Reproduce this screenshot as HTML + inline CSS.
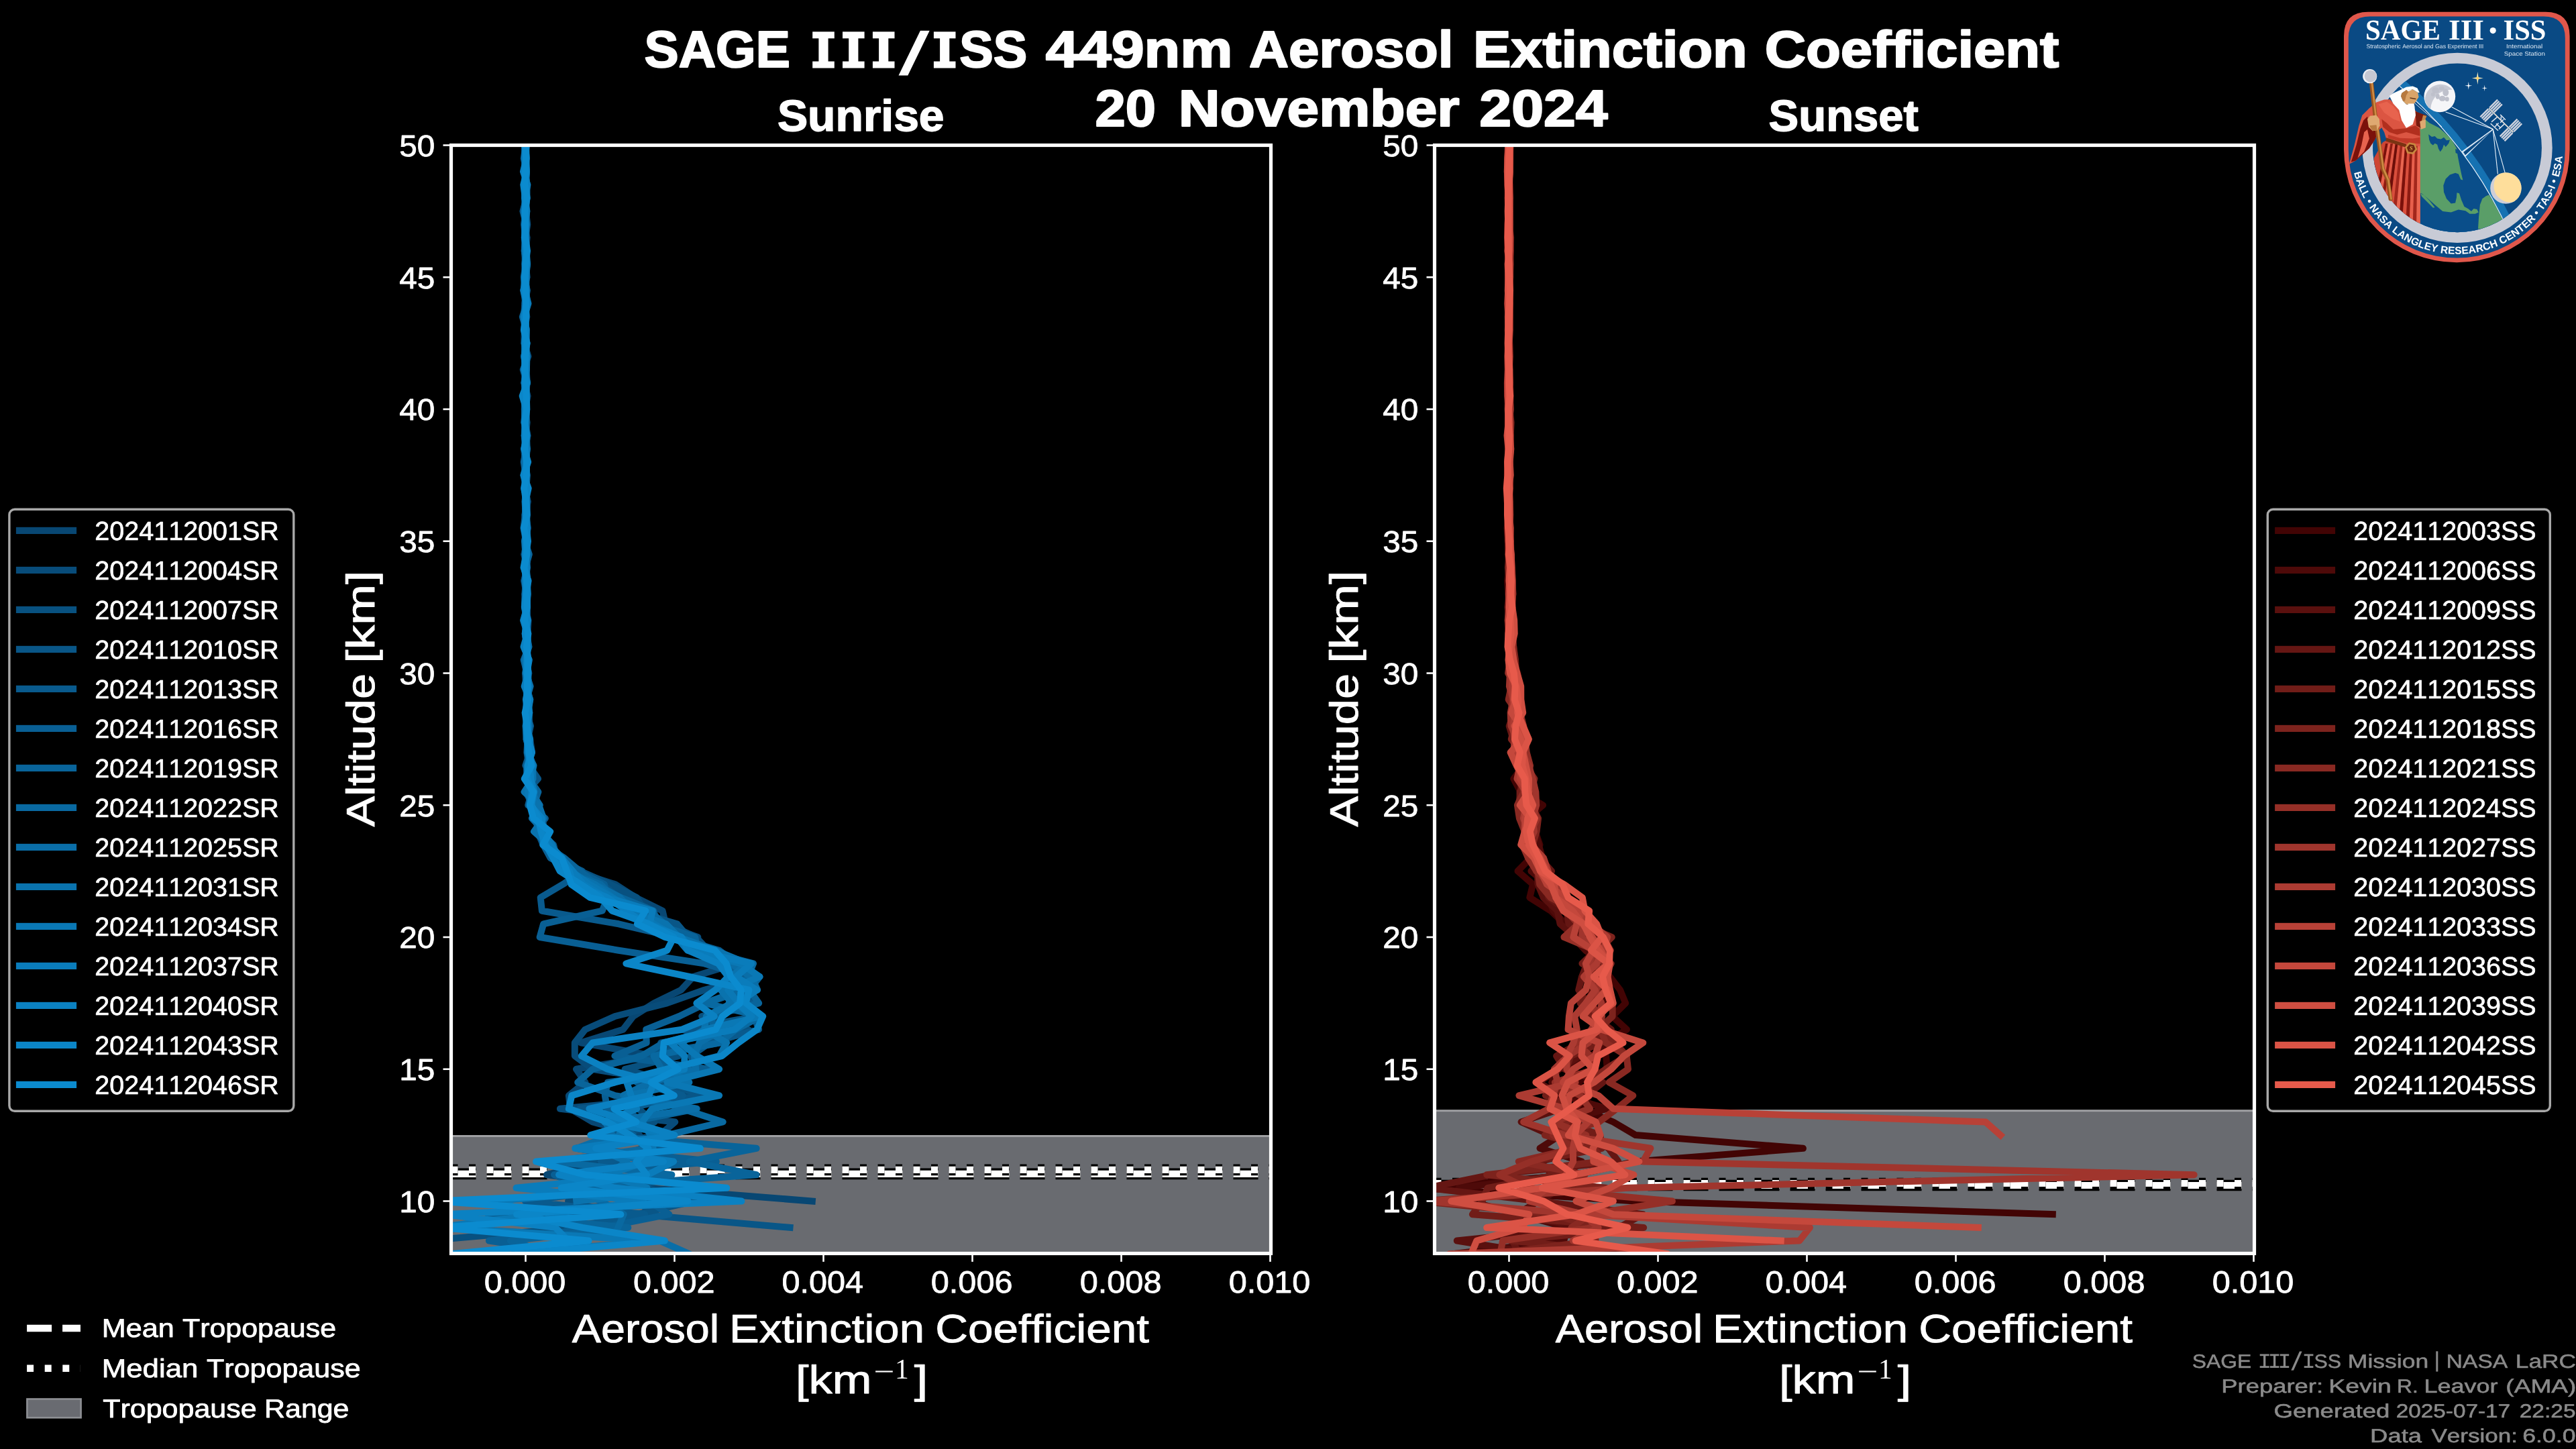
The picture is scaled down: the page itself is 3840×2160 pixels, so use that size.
<!DOCTYPE html>
<html><head><meta charset="utf-8"><title>SAGE III/ISS 449nm Aerosol Extinction Coefficient</title>
<style>html,body{margin:0;padding:0;background:#000;width:3840px;height:2160px;overflow:hidden}
svg{display:block}</style></head><body>
<svg width="3840" height="2160" viewBox="0 0 3840 2160" style="position:absolute;left:0;top:0;font-kerning:none" text-rendering="geometricPrecision">
<rect width="3840" height="2160" fill="#000"/>
<g opacity="0.999">
<defs>
<clipPath id="cp0"><rect x="672.50" y="216.50" width="1222.00" height="1652.00"/></clipPath>
<clipPath id="cp1"><rect x="2138.50" y="216.50" width="1222.00" height="1652.00"/></clipPath>
</defs>
<g clip-path="url(#cp0)">
<rect x="672.50" y="1693.50" width="1222.00" height="180.00" fill="#6a6c71"/>
<rect x="672.50" y="1692.00" width="1222.00" height="3" fill="#a0a1a4"/>
<path d="M672.50 1749.85H1894.50" stroke="#000" stroke-width="16.6" stroke-dasharray="37 16" fill="none"/>
<path d="M672.50 1749.85H1894.50" stroke="#fff" stroke-width="10.2" stroke-dasharray="37 16" fill="none"/>
<path d="M672.50 1743.85H1894.50" stroke="#000" stroke-width="16.6" stroke-dasharray="10 16.5" fill="none"/>
<path d="M672.50 1743.85H1894.50" stroke="#fff" stroke-width="10.2" stroke-dasharray="10 16.5" fill="none"/>
<g fill="none" stroke-width="10" stroke-linejoin="round" stroke-linecap="square">
<path d="M783.0 216.5 L783.8 236.2 L784.0 255.8 L782.3 275.5 L783.9 295.2 L783.5 314.9 L781.4 334.6 L785.7 354.2 L783.7 373.9 L782.4 393.6 L783.7 413.2 L784.2 432.9 L782.9 452.6 L783.3 472.3 L781.8 491.9 L785.1 511.6 L783.3 531.3 L783.8 551.0 L781.3 570.7 L786.6 590.3 L782.7 610.0 L783.0 629.7 L786.6 649.4 L782.4 669.0 L781.8 688.7 L784.2 708.4 L781.0 728.0 L786.9 747.7 L782.8 767.4 L783.4 787.1 L786.2 806.8 L781.2 826.4 L786.2 846.1 L781.1 865.8 L784.9 885.5 L783.2 905.1 L787.6 924.8 L786.5 944.5 L783.5 964.1 L786.9 983.8 L784.9 1003.5 L787.1 1023.2 L784.4 1042.8 L783.8 1062.5 L784.7 1082.2 L790.2 1101.9 L793.1 1121.6 L786.6 1141.2 L787.7 1160.9 L802.4 1180.6 L792.5 1200.2 L800.7 1219.9 L807.5 1239.6 L814.5 1259.3 L832.4 1279.0 L855.5 1298.6 L917.1 1318.3 L947.6 1338.0 L987.6 1357.7 L992.2 1377.3 L1005.0 1397.0 L1061.5 1416.7 L1096.6 1436.4 L1033.4 1456.0 L1015.4 1475.7 L974.9 1495.4 L943.9 1515.0 L928.8 1534.7 L865.5 1554.4 L974.7 1574.1 L859.0 1593.8 L872.3 1613.4 L847.9 1633.1 L850.1 1652.8 L883.4 1672.5 L953.2 1692.1 L958.4 1711.8 L893.9 1731.5 L815.0 1751.2 L961.1 1770.8 L1210.8 1790.5" stroke="#094874"/>
<path d="M784.1 216.5 L784.0 236.2 L783.1 255.8 L783.4 275.5 L782.7 295.2 L783.8 314.9 L786.3 334.6 L783.3 354.2 L782.6 373.9 L783.1 393.6 L782.7 413.2 L784.5 432.9 L783.8 452.6 L781.4 472.3 L785.0 491.9 L782.5 511.6 L785.7 531.3 L782.8 551.0 L785.7 570.7 L781.8 590.3 L783.4 610.0 L784.2 629.7 L784.9 649.4 L783.8 669.0 L781.7 688.7 L784.9 708.4 L783.8 728.0 L783.4 747.7 L783.4 767.4 L787.0 787.1 L782.5 806.8 L783.3 826.4 L785.8 846.1 L784.2 865.8 L784.3 885.5 L785.7 905.1 L784.8 924.8 L785.1 944.5 L786.3 964.1 L785.2 983.8 L784.6 1003.5 L785.9 1023.2 L785.6 1042.8 L787.5 1062.5 L784.3 1082.2 L784.3 1101.9 L790.3 1121.6 L784.7 1141.2 L785.2 1160.9 L798.6 1180.6 L791.3 1200.2 L805.6 1219.9 L801.0 1239.6 L809.6 1259.3 L827.8 1279.0 L864.1 1298.6 L903.2 1318.3 L939.2 1338.0 L973.1 1357.7 L984.1 1377.3 L1040.3 1397.0 L1030.7 1416.7 L1100.7 1436.4 L1119.0 1456.0 L1049.9 1475.7 L994.4 1495.4 L916.7 1515.0 L872.3 1534.7 L856.8 1554.4 L856.8 1574.1 L883.4 1593.8 L1004.4 1613.4 L1037.8 1633.1 L834.9 1652.8 L1006.3 1672.5 L983.3 1692.1 L859.5 1711.8 L984.0 1731.5 L838.4 1751.2 L883.9 1770.8 L847.1 1790.5 L924.1 1810.2" stroke="#094d7b"/>
<path d="M784.3 216.5 L782.6 236.2 L784.2 255.8 L783.6 275.5 L784.8 295.2 L783.0 314.9 L781.2 334.6 L782.9 354.2 L785.2 373.9 L782.8 393.6 L785.1 413.2 L783.2 432.9 L782.4 452.6 L785.3 472.3 L781.8 491.9 L781.3 511.6 L787.4 531.3 L779.7 551.0 L785.5 570.7 L784.3 590.3 L783.1 610.0 L781.2 629.7 L786.1 649.4 L781.1 669.0 L782.9 688.7 L784.2 708.4 L785.2 728.0 L783.9 747.7 L785.0 767.4 L783.0 787.1 L784.2 806.8 L782.8 826.4 L784.6 846.1 L785.5 865.8 L783.6 885.5 L785.4 905.1 L783.4 924.8 L784.4 944.5 L785.6 964.1 L785.1 983.8 L786.7 1003.5 L785.8 1023.2 L789.3 1042.8 L784.5 1062.5 L786.6 1082.2 L785.2 1101.9 L789.2 1121.6 L791.1 1141.2 L786.2 1160.9 L794.2 1180.6 L799.4 1200.2 L798.1 1219.9 L803.0 1239.6 L825.1 1259.3 L830.1 1279.0 L865.2 1298.6 L909.8 1318.3 L949.1 1338.0 L961.1 1357.7 L995.0 1377.3 L1037.3 1397.0 L1056.2 1416.7 L1059.2 1436.4 L1130.6 1456.0 L1099.8 1475.7 L1124.5 1495.4 L1046.2 1515.0 L1115.6 1534.7 L985.2 1554.4 L1011.7 1574.1 L931.6 1593.8 L997.4 1613.4 L956.1 1633.1 L951.7 1652.8 L975.6 1672.5 L930.9 1692.1 L982.4 1711.8 L871.3 1731.5 L876.2 1751.2 L950.2 1770.8 L963.5 1790.5 L961.8 1810.2 L860.3 1829.9 L635.9 1849.5" stroke="#095281"/>
<path d="M782.9 216.5 L784.5 236.2 L783.1 255.8 L785.2 275.5 L783.3 295.2 L782.3 314.9 L784.6 334.6 L784.3 354.2 L782.3 373.9 L783.3 393.6 L780.9 413.2 L786.0 432.9 L782.2 452.6 L781.1 472.3 L782.5 491.9 L784.3 511.6 L784.6 531.3 L782.9 551.0 L784.2 570.7 L781.8 590.3 L782.4 610.0 L785.6 629.7 L783.7 649.4 L783.4 669.0 L785.5 688.7 L781.7 708.4 L783.9 728.0 L785.7 747.7 L786.0 767.4 L782.9 787.1 L786.6 806.8 L782.3 826.4 L785.2 846.1 L783.9 865.8 L782.3 885.5 L786.0 905.1 L785.8 924.8 L784.0 944.5 L785.2 964.1 L787.6 983.8 L782.9 1003.5 L784.5 1023.2 L786.4 1042.8 L784.8 1062.5 L791.0 1082.2 L786.6 1101.9 L785.4 1121.6 L788.4 1141.2 L802.0 1160.9 L784.4 1180.6 L793.3 1200.2 L804.6 1219.9 L809.1 1239.6 L814.5 1259.3 L821.8 1279.0 L848.5 1298.6 L897.9 1318.3 L923.0 1338.0 L943.6 1357.7 L1009.3 1377.3 L1025.9 1397.0 L1047.7 1416.7 L1091.8 1436.4 L1121.6 1456.0 L1101.5 1475.7 L1087.8 1495.4 L1128.2 1515.0 L1018.3 1534.7 L1074.2 1554.4 L952.1 1574.1 L1018.9 1593.8 L976.9 1613.4 L1056.2 1633.1 L864.1 1652.8 L904.0 1672.5 L939.7 1692.1 L882.5 1711.8 L924.3 1731.5 L974.3 1751.2 L961.5 1770.8 L1035.1 1790.5 L950.0 1810.2 L1177.5 1829.9" stroke="#0a5788"/>
<path d="M783.6 216.5 L780.8 236.2 L784.9 255.8 L783.2 275.5 L782.7 295.2 L784.7 314.9 L784.4 334.6 L782.3 354.2 L784.1 373.9 L782.6 393.6 L782.9 413.2 L784.1 432.9 L784.1 452.6 L782.5 472.3 L781.0 491.9 L785.6 511.6 L781.1 531.3 L784.6 551.0 L785.8 570.7 L782.4 590.3 L781.9 610.0 L782.4 629.7 L786.1 649.4 L782.9 669.0 L784.5 688.7 L784.8 708.4 L783.3 728.0 L783.6 747.7 L782.9 767.4 L780.4 787.1 L784.1 806.8 L785.2 826.4 L784.1 846.1 L785.1 865.8 L784.0 885.5 L784.9 905.1 L785.7 924.8 L783.0 944.5 L785.4 964.1 L783.2 983.8 L788.3 1003.5 L785.3 1023.2 L787.1 1042.8 L789.2 1062.5 L787.6 1082.2 L786.1 1101.9 L790.0 1121.6 L783.4 1141.2 L794.3 1160.9 L792.7 1180.6 L787.3 1200.2 L812.9 1219.9 L797.1 1239.6 L823.1 1259.3 L825.5 1279.0 L867.9 1298.6 L839.0 1318.3 L805.7 1338.0 L807.9 1357.7 L922.2 1377.3 L1005.5 1397.0 L1072.1 1416.7 L1098.5 1436.4 L1132.2 1456.0 L1083.8 1475.7 L1119.9 1495.4 L1124.1 1515.0 L1131.1 1534.7 L1058.0 1554.4 L1029.7 1574.1 L1038.2 1593.8 L949.4 1613.4 L1017.8 1633.1 L935.7 1652.8 L953.6 1672.5 L914.1 1692.1 L1001.0 1711.8 L895.9 1731.5 L966.5 1751.2 L931.8 1770.8 L783.1 1790.5 L961.3 1810.2 L846.6 1829.9 L841.4 1849.5 L769.2 1869.2 L790.7 1888.9" stroke="#0a5b8e"/>
<path d="M784.1 216.5 L782.8 236.2 L784.6 255.8 L783.6 275.5 L784.5 295.2 L779.5 314.9 L784.4 334.6 L782.6 354.2 L783.9 373.9 L782.7 393.6 L783.1 413.2 L784.7 432.9 L785.5 452.6 L778.8 472.3 L784.8 491.9 L784.1 511.6 L783.3 531.3 L783.0 551.0 L781.9 570.7 L783.1 590.3 L785.1 610.0 L784.6 629.7 L783.1 649.4 L782.5 669.0 L784.4 688.7 L783.5 708.4 L784.8 728.0 L783.8 747.7 L783.1 767.4 L784.8 787.1 L782.4 806.8 L786.2 826.4 L785.5 846.1 L781.9 865.8 L785.9 885.5 L782.8 905.1 L786.9 924.8 L785.5 944.5 L784.2 964.1 L787.1 983.8 L784.4 1003.5 L785.3 1023.2 L785.8 1042.8 L786.8 1062.5 L786.3 1082.2 L788.1 1101.9 L786.2 1121.6 L792.3 1141.2 L792.6 1160.9 L788.7 1180.6 L789.7 1200.2 L808.8 1219.9 L811.2 1239.6 L809.9 1259.3 L820.5 1279.0 L861.9 1298.6 L900.9 1318.3 L905.6 1338.0 L897.8 1357.7 L810.1 1377.3 L804.6 1397.0 L922.2 1416.7 L1049.9 1436.4 L1116.5 1456.0 L1110.0 1475.7 L1052.4 1495.4 L1012.4 1515.0 L963.2 1534.7 L963.7 1554.4 L916.4 1574.1 L1056.9 1593.8 L905.9 1613.4 L901.8 1633.1 L905.1 1652.8 L920.0 1672.5 L943.9 1692.1 L863.8 1711.8 L1067.8 1731.5 L825.9 1751.2 L873.2 1770.8 L967.3 1790.5 L997.3 1810.2 L898.3 1829.9 L728.9 1849.5 L859.0 1869.2 L813.8 1888.9" stroke="#0a6095"/>
<path d="M782.0 216.5 L784.4 236.2 L782.0 255.8 L785.8 275.5 L782.8 295.2 L782.2 314.9 L783.7 334.6 L783.1 354.2 L783.6 373.9 L784.7 393.6 L781.1 413.2 L782.0 432.9 L785.0 452.6 L783.1 472.3 L783.8 491.9 L784.0 511.6 L783.0 531.3 L784.7 551.0 L781.8 570.7 L784.1 590.3 L782.4 610.0 L782.6 629.7 L785.2 649.4 L784.1 669.0 L780.8 688.7 L783.6 708.4 L785.0 728.0 L785.3 747.7 L782.4 767.4 L784.3 787.1 L782.3 806.8 L788.8 826.4 L783.3 846.1 L785.4 865.8 L784.8 885.5 L785.5 905.1 L784.9 924.8 L784.0 944.5 L786.5 964.1 L785.0 983.8 L787.6 1003.5 L783.8 1023.2 L785.9 1042.8 L788.4 1062.5 L788.9 1082.2 L786.3 1101.9 L786.0 1121.6 L789.7 1141.2 L788.5 1160.9 L802.2 1180.6 L795.8 1200.2 L805.7 1219.9 L803.9 1239.6 L810.0 1259.3 L841.2 1279.0 L864.4 1298.6 L888.6 1318.3 L925.7 1338.0 L974.2 1357.7 L977.1 1377.3 L1036.1 1397.0 L1040.2 1416.7 L1081.3 1436.4 L1132.5 1456.0 L1117.0 1475.7 L1131.2 1495.4 L1059.3 1515.0 L1065.6 1534.7 L989.5 1554.4 L956.7 1574.1 L883.4 1593.8 L861.2 1613.4 L916.7 1633.1 L1038.8 1652.8 L938.9 1672.5 L889.6 1692.1 L1127.6 1711.8 L1027.7 1731.5 L1127.6 1751.2 L845.6 1770.8 L1009.7 1790.5 L727.8 1810.2 L936.3 1829.9 L760.8 1849.5 L824.1 1869.2 L870.4 1888.9" stroke="#0a659b"/>
<path d="M783.4 216.5 L784.4 236.2 L784.0 255.8 L781.4 275.5 L784.9 295.2 L784.0 314.9 L782.2 334.6 L784.4 354.2 L781.6 373.9 L786.1 393.6 L782.4 413.2 L783.5 432.9 L785.1 452.6 L782.6 472.3 L784.4 491.9 L781.8 511.6 L783.4 531.3 L782.0 551.0 L784.1 570.7 L785.0 590.3 L783.2 610.0 L784.6 629.7 L781.7 649.4 L783.2 669.0 L783.7 688.7 L784.9 708.4 L784.0 728.0 L783.7 747.7 L784.9 767.4 L783.5 787.1 L784.3 806.8 L786.1 826.4 L782.6 846.1 L785.1 865.8 L786.7 885.5 L783.6 905.1 L785.6 924.8 L783.5 944.5 L788.5 964.1 L780.7 983.8 L785.6 1003.5 L785.1 1023.2 L790.1 1042.8 L785.7 1062.5 L785.9 1082.2 L784.7 1101.9 L790.3 1121.6 L788.9 1141.2 L787.4 1160.9 L787.8 1180.6 L793.7 1200.2 L805.0 1219.9 L807.2 1239.6 L814.5 1259.3 L828.1 1279.0 L840.6 1298.6 L895.3 1318.3 L915.6 1338.0 L966.5 1357.7 L991.0 1377.3 L1011.1 1397.0 L1046.7 1416.7 L1123.0 1436.4 L1114.9 1456.0 L1106.0 1475.7 L1050.3 1495.4 L1134.5 1515.0 L1096.8 1534.7 L1073.0 1554.4 L974.4 1574.1 L986.4 1593.8 L978.2 1613.4 L961.1 1633.1 L1016.6 1652.8 L1077.7 1672.5 L994.4 1692.1 L968.9 1711.8 L824.9 1731.5 L1001.4 1751.2 L852.5 1770.8 L895.4 1790.5 L929.7 1810.2 L921.3 1829.9" stroke="#0a6aa2"/>
<path d="M785.0 216.5 L782.1 236.2 L782.8 255.8 L785.4 275.5 L785.4 295.2 L783.0 314.9 L784.2 334.6 L782.4 354.2 L782.1 373.9 L784.0 393.6 L785.5 413.2 L780.3 432.9 L784.0 452.6 L781.4 472.3 L784.8 491.9 L784.6 511.6 L781.4 531.3 L783.7 551.0 L785.5 570.7 L782.6 590.3 L781.9 610.0 L782.6 629.7 L781.8 649.4 L786.0 669.0 L782.3 688.7 L785.8 708.4 L784.4 728.0 L782.5 747.7 L783.7 767.4 L785.6 787.1 L783.9 806.8 L784.5 826.4 L781.8 846.1 L786.8 865.8 L782.6 885.5 L781.8 905.1 L785.3 924.8 L785.9 944.5 L788.0 964.1 L783.4 983.8 L784.0 1003.5 L790.6 1023.2 L784.8 1042.8 L785.9 1062.5 L784.8 1082.2 L786.2 1101.9 L792.8 1121.6 L786.1 1141.2 L788.6 1160.9 L791.8 1180.6 L804.7 1200.2 L793.0 1219.9 L811.7 1239.6 L814.2 1259.3 L828.2 1279.0 L840.4 1298.6 L886.5 1318.3 L924.4 1338.0 L942.0 1357.7 L965.4 1377.3 L1004.8 1397.0 L1067.3 1416.7 L1089.6 1436.4 L1119.7 1456.0 L1129.2 1475.7 L1086.5 1495.4 L1130.2 1515.0 L1077.2 1534.7 L1042.5 1554.4 L1034.8 1574.1 L1037.4 1593.8 L970.1 1613.4 L929.1 1633.1 L1037.6 1652.8 L902.4 1672.5 L912.7 1692.1 L860.1 1711.8 L973.8 1731.5 L858.0 1751.2 L908.6 1770.8 L969.4 1790.5 L849.1 1810.2 L661.4 1829.9 L983.3 1849.5 L1027.7 1869.2 L799.2 1888.9" stroke="#0b6fa9"/>
<path d="M783.0 216.5 L784.7 236.2 L783.1 255.8 L782.9 275.5 L781.9 295.2 L784.9 314.9 L783.5 334.6 L783.4 354.2 L782.9 373.9 L782.7 393.6 L783.7 413.2 L783.9 432.9 L783.2 452.6 L783.4 472.3 L783.0 491.9 L784.2 511.6 L783.6 531.3 L782.4 551.0 L785.0 570.7 L784.1 590.3 L784.1 610.0 L782.9 629.7 L783.5 649.4 L782.3 669.0 L785.5 688.7 L780.4 708.4 L784.8 728.0 L783.8 747.7 L785.5 767.4 L783.6 787.1 L782.8 806.8 L782.9 826.4 L784.2 846.1 L785.0 865.8 L784.5 885.5 L784.2 905.1 L783.7 924.8 L785.0 944.5 L786.8 964.1 L783.1 983.8 L786.5 1003.5 L788.7 1023.2 L785.9 1042.8 L785.1 1062.5 L788.7 1082.2 L784.9 1101.9 L788.8 1121.6 L793.9 1141.2 L794.5 1160.9 L781.6 1180.6 L803.2 1200.2 L810.2 1219.9 L796.0 1239.6 L818.4 1259.3 L838.7 1279.0 L840.5 1298.6 L886.8 1318.3 L914.1 1338.0 L935.0 1357.7 L992.8 1377.3 L1012.1 1397.0 L1066.2 1416.7 L1114.3 1436.4 L1089.5 1456.0 L1074.7 1475.7 L1091.0 1495.4 L1052.9 1515.0 L1049.9 1534.7 L1083.2 1554.4 L1072.1 1574.1 L994.4 1593.8 L1027.4 1613.4 L936.5 1633.1 L916.7 1652.8 L923.3 1672.5 L924.2 1692.1 L890.5 1711.8 L934.7 1731.5 L904.9 1751.2 L1052.8 1770.8 L859.3 1790.5" stroke="#0b74af"/>
<path d="M782.6 216.5 L781.9 236.2 L785.0 255.8 L782.8 275.5 L782.9 295.2 L783.0 314.9 L784.8 334.6 L782.9 354.2 L782.9 373.9 L785.4 393.6 L781.5 413.2 L782.5 432.9 L787.5 452.6 L781.5 472.3 L783.0 491.9 L782.9 511.6 L783.8 531.3 L784.6 551.0 L784.0 570.7 L783.8 590.3 L782.8 610.0 L781.7 629.7 L785.0 649.4 L785.6 669.0 L784.3 688.7 L782.9 708.4 L785.1 728.0 L782.9 747.7 L784.2 767.4 L782.4 787.1 L784.6 806.8 L784.7 826.4 L784.0 846.1 L785.6 865.8 L786.7 885.5 L785.2 905.1 L783.3 924.8 L784.0 944.5 L784.7 964.1 L784.4 983.8 L786.5 1003.5 L786.7 1023.2 L786.3 1042.8 L786.8 1062.5 L787.0 1082.2 L786.9 1101.9 L786.2 1121.6 L795.5 1141.2 L791.1 1160.9 L786.8 1180.6 L793.3 1200.2 L799.7 1219.9 L807.7 1239.6 L823.5 1259.3 L830.0 1279.0 L851.4 1298.6 L878.9 1318.3 L912.7 1338.0 L947.7 1357.7 L974.9 1377.3 L1008.4 1397.0 L1025.0 1416.7 L1104.5 1436.4 L1132.5 1456.0 L1085.1 1475.7 L1101.0 1495.4 L1133.9 1515.0 L1051.3 1534.7 L1014.5 1554.4 L1038.8 1574.1 L1072.1 1593.8 L994.4 1613.4 L1072.1 1633.1 L972.2 1652.8 L957.1 1672.5 L969.8 1692.1 L973.5 1711.8 L964.6 1731.5 L904.3 1751.2 L964.5 1770.8 L735.8 1790.5 L805.7 1810.2 L650.3 1829.9 L972.2 1849.5 L765.0 1869.2 L837.0 1888.9" stroke="#0b79b6"/>
<path d="M782.4 216.5 L784.1 236.2 L784.7 255.8 L784.2 275.5 L784.1 295.2 L782.7 314.9 L783.2 334.6 L783.2 354.2 L784.5 373.9 L786.1 393.6 L783.9 413.2 L784.7 432.9 L784.3 452.6 L780.6 472.3 L784.2 491.9 L783.1 511.6 L785.4 531.3 L784.9 551.0 L781.6 570.7 L784.0 590.3 L784.2 610.0 L782.6 629.7 L783.1 649.4 L783.2 669.0 L785.4 688.7 L782.0 708.4 L786.1 728.0 L783.4 747.7 L785.0 767.4 L785.8 787.1 L782.2 806.8 L783.5 826.4 L785.5 846.1 L782.6 865.8 L784.1 885.5 L784.9 905.1 L784.9 924.8 L782.9 944.5 L785.5 964.1 L786.6 983.8 L787.3 1003.5 L781.7 1023.2 L790.3 1042.8 L787.1 1062.5 L783.6 1082.2 L785.1 1101.9 L790.7 1121.6 L787.1 1141.2 L791.4 1160.9 L796.4 1180.6 L791.9 1200.2 L802.6 1219.9 L808.3 1239.6 L819.2 1259.3 L837.2 1279.0 L853.8 1298.6 L869.9 1318.3 L904.3 1338.0 L972.8 1357.7 L968.5 1377.3 L1015.6 1397.0 L1033.5 1416.7 L1120.1 1436.4 L1097.1 1456.0 L1128.1 1475.7 L1099.4 1495.4 L1120.3 1515.0 L1095.0 1534.7 L999.5 1554.4 L1020.5 1574.1 L1020.1 1593.8 L934.3 1613.4 L940.8 1633.1 L949.1 1652.8 L901.0 1672.5 L1005.2 1692.1 L857.3 1711.8 L1004.1 1731.5 L965.6 1751.2 L769.5 1770.8 L959.1 1790.5 L817.3 1810.2" stroke="#0b7dbc"/>
<path d="M784.1 216.5 L784.6 236.2 L780.0 255.8 L786.4 275.5 L782.6 295.2 L785.4 314.9 L782.1 334.6 L782.7 354.2 L784.0 373.9 L784.9 393.6 L782.9 413.2 L780.5 432.9 L785.8 452.6 L781.0 472.3 L783.2 491.9 L782.6 511.6 L781.8 531.3 L783.0 551.0 L783.0 570.7 L783.3 590.3 L783.8 610.0 L783.2 629.7 L781.9 649.4 L784.4 669.0 L785.2 688.7 L784.5 708.4 L783.5 728.0 L784.8 747.7 L784.9 767.4 L785.5 787.1 L785.7 806.8 L782.7 826.4 L784.2 846.1 L786.7 865.8 L785.7 885.5 L785.7 905.1 L780.1 924.8 L786.2 944.5 L780.5 964.1 L788.8 983.8 L785.3 1003.5 L786.0 1023.2 L786.0 1042.8 L789.3 1062.5 L784.9 1082.2 L790.1 1101.9 L788.1 1121.6 L789.4 1141.2 L791.3 1160.9 L792.5 1180.6 L790.0 1200.2 L807.8 1219.9 L808.1 1239.6 L810.4 1259.3 L832.2 1279.0 L848.9 1298.6 L855.5 1318.3 L905.3 1338.0 L934.4 1357.7 L961.0 1377.3 L1015.8 1397.0 L1025.6 1416.7 L1070.9 1436.4 L1085.6 1456.0 L1066.4 1475.7 L1038.4 1495.4 L1064.8 1515.0 L1016.6 1534.7 L883.4 1554.4 L866.8 1574.1 L905.6 1593.8 L974.8 1613.4 L967.4 1633.1 L878.4 1652.8 L940.1 1672.5 L1005.5 1692.1 L888.1 1711.8 L989.1 1731.5 L833.1 1751.2 L916.7 1770.8 L1105.4 1790.5 L661.4 1810.2 L827.9 1829.9 L847.0 1849.5 L836.5 1869.2 L827.7 1888.9" stroke="#0c82c3"/>
<path d="M783.2 216.5 L783.8 236.2 L785.0 255.8 L780.3 275.5 L783.0 295.2 L782.4 314.9 L783.5 334.6 L781.8 354.2 L785.2 373.9 L783.3 393.6 L783.1 413.2 L782.8 432.9 L784.1 452.6 L783.6 472.3 L783.8 491.9 L782.4 511.6 L784.8 531.3 L781.2 551.0 L786.0 570.7 L778.7 590.3 L784.6 610.0 L782.3 629.7 L785.5 649.4 L781.2 669.0 L787.2 688.7 L780.6 708.4 L787.7 728.0 L783.3 747.7 L783.8 767.4 L784.7 787.1 L787.0 806.8 L784.1 826.4 L780.5 846.1 L787.6 865.8 L784.0 885.5 L782.0 905.1 L786.8 924.8 L782.6 944.5 L786.3 964.1 L785.7 983.8 L784.6 1003.5 L787.6 1023.2 L783.9 1042.8 L787.9 1062.5 L785.5 1082.2 L787.6 1101.9 L793.0 1121.6 L786.6 1141.2 L785.9 1160.9 L794.6 1180.6 L792.1 1200.2 L802.9 1219.9 L806.5 1239.6 L813.5 1259.3 L824.6 1279.0 L834.8 1298.6 L865.6 1318.3 L895.7 1338.0 L912.5 1357.7 L967.3 1377.3 L1004.5 1397.0 L994.4 1416.7 L933.4 1436.4 L1027.7 1456.0 L1116.5 1475.7 L1111.8 1495.4 L1137.2 1515.0 L1128.4 1534.7 L1100.7 1554.4 L1076.1 1574.1 L993.0 1593.8 L916.7 1613.4 L852.3 1633.1 L847.9 1652.8 L905.6 1672.5 L939.5 1692.1 L966.4 1711.8 L948.5 1731.5 L964.0 1751.2 L836.7 1770.8 L1025.5 1790.5 L770.1 1810.2 L868.3 1829.9 L990.9 1849.5 L772.1 1869.2 L697.5 1888.9" stroke="#0c87c9"/>
<path d="M783.7 216.5 L783.8 236.2 L783.0 255.8 L782.8 275.5 L785.7 295.2 L782.2 314.9 L783.1 334.6 L783.2 354.2 L786.0 373.9 L783.5 393.6 L782.5 413.2 L783.7 432.9 L784.2 452.6 L784.3 472.3 L780.9 491.9 L785.6 511.6 L782.7 531.3 L782.7 551.0 L783.4 570.7 L784.8 590.3 L785.3 610.0 L782.7 629.7 L784.3 649.4 L782.3 669.0 L785.0 688.7 L784.7 708.4 L781.3 728.0 L784.2 747.7 L785.5 767.4 L781.1 787.1 L784.8 806.8 L785.4 826.4 L781.5 846.1 L785.0 865.8 L784.8 885.5 L785.8 905.1 L782.1 924.8 L787.4 944.5 L784.9 964.1 L787.0 983.8 L786.6 1003.5 L785.7 1023.2 L786.9 1042.8 L782.6 1062.5 L785.7 1082.2 L786.5 1101.9 L788.2 1121.6 L792.5 1141.2 L781.8 1160.9 L795.2 1180.6 L789.8 1200.2 L795.2 1219.9 L820.2 1239.6 L809.3 1259.3 L837.4 1279.0 L845.0 1298.6 L851.7 1318.3 L879.6 1338.0 L962.3 1357.7 L949.9 1377.3 L991.4 1397.0 L1065.6 1416.7 L1082.7 1436.4 L1089.3 1456.0 L1104.7 1475.7 L1103.1 1495.4 L1076.9 1515.0 L1067.0 1534.7 L989.7 1554.4 L987.7 1574.1 L1010.8 1593.8 L970.5 1613.4 L1004.9 1633.1 L915.3 1652.8 L948.5 1672.5 L880.3 1692.1 L1043.9 1711.8 L799.1 1731.5 L872.3 1751.2 L1083.2 1770.8 L650.3 1790.5 L925.4 1810.2 L657.1 1829.9 L877.5 1849.5 L671.8 1869.2 L1001.0 1888.9" stroke="#0c8cd0"/>
</g>
</g>
<rect x="672.50" y="216.50" width="1222.00" height="1652.00" fill="none" stroke="#fff" stroke-width="5.2"/>
<rect x="660.50" y="1789.20" width="10" height="2.6" fill="#fff"/>
<rect x="660.50" y="1592.45" width="10" height="2.6" fill="#fff"/>
<rect x="660.50" y="1395.70" width="10" height="2.6" fill="#fff"/>
<rect x="660.50" y="1198.95" width="10" height="2.6" fill="#fff"/>
<rect x="660.50" y="1002.20" width="10" height="2.6" fill="#fff"/>
<rect x="660.50" y="805.45" width="10" height="2.6" fill="#fff"/>
<rect x="660.50" y="608.70" width="10" height="2.6" fill="#fff"/>
<rect x="660.50" y="411.95" width="10" height="2.6" fill="#fff"/>
<rect x="660.50" y="215.20" width="10" height="2.6" fill="#fff"/>
<rect x="782.20" y="1870.90" width="2.6" height="10" fill="#fff"/>
<rect x="1004.20" y="1870.90" width="2.6" height="10" fill="#fff"/>
<rect x="1226.20" y="1870.90" width="2.6" height="10" fill="#fff"/>
<rect x="1448.20" y="1870.90" width="2.6" height="10" fill="#fff"/>
<rect x="1670.20" y="1870.90" width="2.6" height="10" fill="#fff"/>
<rect x="1892.20" y="1870.90" width="2.6" height="10" fill="#fff"/>
<g clip-path="url(#cp1)">
<rect x="2138.50" y="1655.70" width="1222.00" height="217.80" fill="#6a6c71"/>
<rect x="2138.50" y="1654.20" width="1222.00" height="3" fill="#a0a1a4"/>
<path d="M2138.50 1767.00H3360.50" stroke="#000" stroke-width="16.6" stroke-dasharray="37 16" fill="none"/>
<path d="M2138.50 1767.00H3360.50" stroke="#fff" stroke-width="10.2" stroke-dasharray="37 16" fill="none"/>
<path d="M2138.50 1764.00H3360.50" stroke="#000" stroke-width="16.6" stroke-dasharray="10 16.5" fill="none"/>
<path d="M2138.50 1764.00H3360.50" stroke="#fff" stroke-width="10.2" stroke-dasharray="10 16.5" fill="none"/>
<g fill="none" stroke-width="10" stroke-linejoin="round" stroke-linecap="square">
<path d="M2250.6 216.5 L2250.5 236.2 L2250.9 255.8 L2249.5 275.5 L2248.5 295.2 L2250.1 314.9 L2250.3 334.6 L2251.2 354.2 L2250.2 373.9 L2249.8 393.6 L2248.5 413.2 L2249.0 432.9 L2250.1 452.6 L2248.8 472.3 L2248.5 491.9 L2249.2 511.6 L2248.5 531.3 L2248.8 551.0 L2248.1 570.7 L2248.7 590.3 L2248.3 610.0 L2247.7 629.7 L2248.1 649.4 L2248.3 669.0 L2247.6 688.7 L2246.8 708.4 L2247.7 728.0 L2246.9 747.7 L2249.2 767.4 L2250.1 787.1 L2249.1 806.8 L2249.8 826.4 L2249.3 846.1 L2247.0 865.8 L2248.2 885.5 L2249.6 905.1 L2247.8 924.8 L2248.1 944.5 L2253.2 964.1 L2253.8 983.8 L2262.5 1003.5 L2263.9 1023.2 L2262.5 1042.8 L2263.5 1062.5 L2267.8 1082.2 L2268.7 1101.9 L2274.2 1121.6 L2270.9 1141.2 L2256.3 1160.9 L2266.7 1180.6 L2300.1 1200.2 L2276.9 1219.9 L2288.6 1239.6 L2295.5 1259.3 L2281.7 1279.0 L2262.5 1298.6 L2285.1 1318.3 L2280.3 1338.0 L2311.7 1357.7 L2332.2 1377.3 L2359.6 1397.0 L2366.6 1416.7 L2375.4 1436.4 L2399.9 1456.0 L2415.1 1475.7 L2423.2 1495.4 L2403.5 1515.0 L2425.0 1534.7 L2392.4 1554.4 L2394.1 1574.1 L2395.8 1593.8 L2350.2 1613.4 L2368.7 1633.1 L2357.4 1652.8 L2404.9 1672.5 L2438.2 1692.1 L2687.9 1711.8 L2438.2 1731.5 L2349.4 1751.2 L2116.3 1770.8 L2438.2 1790.5 L3059.8 1810.2" stroke="#430505"/>
<path d="M2249.2 216.5 L2249.1 236.2 L2248.7 255.8 L2248.2 275.5 L2247.3 295.2 L2248.7 314.9 L2247.3 334.6 L2247.2 354.2 L2247.2 373.9 L2249.0 393.6 L2247.9 413.2 L2249.4 432.9 L2248.7 452.6 L2249.2 472.3 L2249.2 491.9 L2250.4 511.6 L2250.5 531.3 L2249.2 551.0 L2248.5 570.7 L2249.9 590.3 L2249.4 610.0 L2249.5 629.7 L2250.1 649.4 L2249.6 669.0 L2250.4 688.7 L2247.5 708.4 L2246.4 728.0 L2248.3 747.7 L2248.3 767.4 L2251.3 787.1 L2251.5 806.8 L2251.9 826.4 L2251.6 846.1 L2254.3 865.8 L2255.2 885.5 L2253.5 905.1 L2254.5 924.8 L2253.9 944.5 L2251.5 964.1 L2258.8 983.8 L2255.1 1003.5 L2257.8 1023.2 L2257.9 1042.8 L2264.5 1062.5 L2263.8 1082.2 L2262.7 1101.9 L2255.6 1121.6 L2261.7 1141.2 L2268.1 1160.9 L2272.7 1180.6 L2286.6 1200.2 L2289.7 1219.9 L2288.8 1239.6 L2293.6 1259.3 L2299.3 1279.0 L2282.4 1298.6 L2306.3 1318.3 L2307.6 1338.0 L2315.5 1357.7 L2333.4 1377.3 L2345.1 1397.0 L2363.4 1416.7 L2389.9 1436.4 L2379.6 1456.0 L2382.6 1475.7 L2390.2 1495.4 L2375.2 1515.0 L2391.2 1534.7 L2407.9 1554.4 L2371.2 1574.1 L2322.5 1593.8 L2313.2 1613.4 L2331.0 1633.1 L2395.6 1652.8 L2324.6 1672.5 L2325.9 1692.1 L2295.5 1711.8 L2358.0 1731.5 L2334.6 1751.2 L2174.5 1770.8 L2189.9 1790.5 L2265.4 1810.2 L2335.7 1829.9 L2331.4 1849.5 L2165.8 1869.2 L2382.3 1888.9" stroke="#4f0b0a"/>
<path d="M2250.3 216.5 L2249.7 236.2 L2249.2 255.8 L2250.9 275.5 L2251.1 295.2 L2250.4 314.9 L2250.4 334.6 L2250.8 354.2 L2251.9 373.9 L2250.4 393.6 L2250.2 413.2 L2249.5 432.9 L2248.7 452.6 L2248.3 472.3 L2248.9 491.9 L2248.5 511.6 L2249.1 531.3 L2249.0 551.0 L2249.0 570.7 L2247.7 590.3 L2250.2 610.0 L2249.1 629.7 L2248.9 649.4 L2249.8 669.0 L2249.7 688.7 L2250.3 708.4 L2249.8 728.0 L2248.1 747.7 L2249.1 767.4 L2246.6 787.1 L2247.7 806.8 L2248.1 826.4 L2249.6 846.1 L2249.5 865.8 L2249.5 885.5 L2247.3 905.1 L2250.4 924.8 L2250.9 944.5 L2251.0 964.1 L2251.6 983.8 L2250.3 1003.5 L2256.4 1023.2 L2255.6 1042.8 L2259.0 1062.5 L2258.6 1082.2 L2259.9 1101.9 L2257.9 1121.6 L2265.0 1141.2 L2266.1 1160.9 L2267.6 1180.6 L2263.2 1200.2 L2269.1 1219.9 L2272.3 1239.6 L2281.2 1259.3 L2277.7 1279.0 L2291.6 1298.6 L2292.5 1318.3 L2300.8 1338.0 L2321.7 1357.7 L2325.6 1377.3 L2348.3 1397.0 L2383.6 1416.7 L2367.1 1436.4 L2367.4 1456.0 L2374.9 1475.7 L2365.6 1495.4 L2381.5 1515.0 L2392.8 1534.7 L2365.4 1554.4 L2354.8 1574.1 L2324.5 1593.8 L2292.6 1613.4 L2327.8 1633.1 L2326.3 1652.8 L2267.6 1672.5 L2311.7 1692.1 L2365.1 1711.8 L2296.1 1731.5 L2313.8 1751.2 L2327.4 1770.8 L2293.3 1790.5 L2260.7 1810.2 L2359.2 1829.9 L2171.8 1849.5 L2293.9 1869.2 L2570.4 1888.9" stroke="#5b110f"/>
<path d="M2249.2 216.5 L2248.3 236.2 L2248.3 255.8 L2249.7 275.5 L2249.1 295.2 L2250.1 314.9 L2249.1 334.6 L2250.5 354.2 L2250.1 373.9 L2250.5 393.6 L2248.9 413.2 L2249.1 432.9 L2248.7 452.6 L2249.7 472.3 L2248.3 491.9 L2249.4 511.6 L2249.5 531.3 L2248.1 551.0 L2248.8 570.7 L2249.4 590.3 L2248.6 610.0 L2248.8 629.7 L2250.1 649.4 L2250.3 669.0 L2250.5 688.7 L2250.3 708.4 L2248.7 728.0 L2248.0 747.7 L2247.4 767.4 L2248.7 787.1 L2250.5 806.8 L2250.0 826.4 L2250.7 846.1 L2250.8 865.8 L2249.9 885.5 L2251.4 905.1 L2251.9 924.8 L2251.1 944.5 L2249.4 964.1 L2251.7 983.8 L2251.2 1003.5 L2252.4 1023.2 L2253.2 1042.8 L2256.9 1062.5 L2249.7 1082.2 L2255.6 1101.9 L2260.6 1121.6 L2266.7 1141.2 L2276.6 1160.9 L2276.6 1180.6 L2278.2 1200.2 L2278.3 1219.9 L2282.4 1239.6 L2282.6 1259.3 L2295.6 1279.0 L2313.0 1298.6 L2305.9 1318.3 L2308.1 1338.0 L2335.6 1357.7 L2338.5 1377.3 L2379.4 1397.0 L2380.1 1416.7 L2365.8 1436.4 L2358.0 1456.0 L2353.2 1475.7 L2366.2 1495.4 L2375.8 1515.0 L2401.9 1534.7 L2355.3 1554.4 L2320.1 1574.1 L2332.3 1593.8 L2389.6 1613.4 L2365.1 1633.1 L2347.7 1652.8 L2352.1 1672.5 L2364.2 1692.1 L2397.8 1711.8 L2412.4 1731.5 L2223.3 1751.2 L2127.4 1770.8 L2293.9 1790.5 L2449.3 1810.2 L2413.3 1829.9 L2254.4 1849.5 L2264.8 1869.2 L2080.2 1888.9" stroke="#661714"/>
<path d="M2250.6 216.5 L2250.4 236.2 L2249.8 255.8 L2249.1 275.5 L2250.5 295.2 L2250.4 314.9 L2249.5 334.6 L2249.5 354.2 L2248.1 373.9 L2247.8 393.6 L2248.1 413.2 L2250.2 432.9 L2250.3 452.6 L2250.4 472.3 L2250.1 491.9 L2248.1 511.6 L2248.5 531.3 L2249.2 551.0 L2251.0 570.7 L2251.5 590.3 L2251.6 610.0 L2250.4 629.7 L2251.3 649.4 L2251.6 669.0 L2249.5 688.7 L2250.0 708.4 L2247.7 728.0 L2246.7 747.7 L2249.8 767.4 L2249.0 787.1 L2249.1 806.8 L2248.6 826.4 L2249.6 846.1 L2250.8 865.8 L2249.7 885.5 L2249.9 905.1 L2252.4 924.8 L2254.1 944.5 L2256.2 964.1 L2259.1 983.8 L2260.1 1003.5 L2258.3 1023.2 L2252.5 1042.8 L2255.0 1062.5 L2259.4 1082.2 L2267.7 1101.9 L2272.0 1121.6 L2273.0 1141.2 L2274.2 1160.9 L2265.6 1180.6 L2265.5 1200.2 L2280.9 1219.9 L2285.4 1239.6 L2279.7 1259.3 L2289.8 1279.0 L2289.6 1298.6 L2314.6 1318.3 L2327.6 1338.0 L2333.7 1357.7 L2360.9 1377.3 L2356.6 1397.0 L2378.9 1416.7 L2358.4 1436.4 L2393.6 1456.0 L2386.8 1475.7 L2355.6 1495.4 L2370.0 1515.0 L2377.2 1534.7 L2386.5 1554.4 L2341.5 1574.1 L2334.6 1593.8 L2349.0 1613.4 L2303.9 1633.1 L2345.6 1652.8 L2331.7 1672.5 L2385.4 1692.1 L2388.0 1711.8 L2284.9 1731.5 L2322.2 1751.2 L2217.5 1770.8 L2209.8 1790.5 L2194.9 1810.2 L2450.2 1829.9 L2252.1 1849.5 L2453.2 1869.2 L2233.3 1888.9" stroke="#721e19"/>
<path d="M2248.1 216.5 L2247.0 236.2 L2247.3 255.8 L2247.3 275.5 L2248.4 295.2 L2249.9 314.9 L2250.0 334.6 L2252.1 354.2 L2251.3 373.9 L2250.6 393.6 L2249.7 413.2 L2250.5 432.9 L2250.6 452.6 L2249.9 472.3 L2249.8 491.9 L2250.1 511.6 L2251.0 531.3 L2249.9 551.0 L2251.0 570.7 L2251.1 590.3 L2250.4 610.0 L2252.6 629.7 L2251.7 649.4 L2251.8 669.0 L2250.1 688.7 L2250.5 708.4 L2250.3 728.0 L2250.5 747.7 L2250.5 767.4 L2249.2 787.1 L2248.9 806.8 L2249.5 826.4 L2247.9 846.1 L2249.6 865.8 L2249.5 885.5 L2249.0 905.1 L2253.3 924.8 L2250.5 944.5 L2254.0 964.1 L2250.9 983.8 L2256.5 1003.5 L2258.6 1023.2 L2255.4 1042.8 L2264.1 1062.5 L2258.1 1082.2 L2252.8 1101.9 L2268.0 1121.6 L2274.0 1141.2 L2287.4 1160.9 L2282.5 1180.6 L2282.4 1200.2 L2293.1 1219.9 L2290.6 1239.6 L2284.7 1259.3 L2284.6 1279.0 L2291.9 1298.6 L2308.1 1318.3 L2318.5 1338.0 L2353.8 1357.7 L2357.0 1377.3 L2402.8 1397.0 L2382.8 1416.7 L2401.7 1436.4 L2390.3 1456.0 L2395.9 1475.7 L2403.7 1495.4 L2403.7 1515.0 L2382.6 1534.7 L2407.1 1554.4 L2425.0 1574.1 L2393.3 1593.8 L2368.8 1613.4 L2369.8 1633.1 L2343.2 1652.8 L2335.2 1672.5 L2302.9 1692.1 L2377.5 1711.8 L2387.4 1731.5 L2216.2 1751.2 L2393.8 1770.8 L2116.3 1790.5 L2316.1 1810.2 L2377.6 1829.9 L2378.5 1849.5 L2226.4 1869.2 L2256.9 1888.9" stroke="#7e241e"/>
<path d="M2250.1 216.5 L2250.6 236.2 L2249.7 255.8 L2249.5 275.5 L2250.3 295.2 L2250.1 314.9 L2249.6 334.6 L2251.0 354.2 L2251.2 373.9 L2250.7 393.6 L2251.2 413.2 L2249.8 432.9 L2249.3 452.6 L2249.3 472.3 L2249.2 491.9 L2248.8 511.6 L2249.7 531.3 L2248.8 551.0 L2249.7 570.7 L2249.4 590.3 L2250.1 610.0 L2249.2 629.7 L2248.8 649.4 L2250.5 669.0 L2251.0 688.7 L2251.0 708.4 L2251.1 728.0 L2248.8 747.7 L2248.6 767.4 L2249.3 787.1 L2251.9 806.8 L2252.4 826.4 L2254.0 846.1 L2254.9 865.8 L2254.9 885.5 L2254.4 905.1 L2253.8 924.8 L2254.6 944.5 L2256.2 964.1 L2257.3 983.8 L2256.6 1003.5 L2252.7 1023.2 L2248.7 1042.8 L2262.2 1062.5 L2256.2 1082.2 L2262.6 1101.9 L2264.2 1121.6 L2280.4 1141.2 L2266.9 1160.9 L2271.3 1180.6 L2261.9 1200.2 L2264.9 1219.9 L2272.8 1239.6 L2273.0 1259.3 L2287.9 1279.0 L2292.4 1298.6 L2295.1 1318.3 L2311.5 1338.0 L2349.5 1357.7 L2370.8 1377.3 L2389.7 1397.0 L2400.9 1416.7 L2390.4 1436.4 L2396.8 1456.0 L2395.4 1475.7 L2367.3 1495.4 L2383.4 1515.0 L2385.6 1534.7 L2393.7 1554.4 L2424.7 1574.1 L2427.0 1593.8 L2398.7 1613.4 L2434.3 1633.1 L2410.0 1652.8 L2383.6 1672.5 L2315.0 1692.1 L2347.7 1711.8 L2263.8 1731.5 L2362.7 1751.2 L2322.0 1770.8 L2402.0 1790.5 L2371.5 1810.2 L2342.5 1829.9 L2369.9 1849.5 L2357.8 1869.2 L2357.1 1888.9" stroke="#8a2a23"/>
<path d="M2251.4 216.5 L2251.1 236.2 L2251.0 255.8 L2249.1 275.5 L2250.7 295.2 L2248.5 314.9 L2248.6 334.6 L2251.3 354.2 L2251.2 373.9 L2251.6 393.6 L2251.0 413.2 L2251.1 432.9 L2250.6 452.6 L2250.9 472.3 L2250.9 491.9 L2249.8 511.6 L2249.7 531.3 L2249.7 551.0 L2250.1 570.7 L2251.0 590.3 L2249.7 610.0 L2249.2 629.7 L2251.7 649.4 L2251.6 669.0 L2250.3 688.7 L2249.3 708.4 L2249.4 728.0 L2250.9 747.7 L2251.4 767.4 L2250.5 787.1 L2250.6 806.8 L2250.5 826.4 L2251.2 846.1 L2252.3 865.8 L2249.7 885.5 L2249.0 905.1 L2247.6 924.8 L2249.4 944.5 L2248.0 964.1 L2250.8 983.8 L2248.1 1003.5 L2259.9 1023.2 L2258.4 1042.8 L2265.9 1062.5 L2271.2 1082.2 L2273.5 1101.9 L2275.7 1121.6 L2281.0 1141.2 L2277.9 1160.9 L2272.9 1180.6 L2281.3 1200.2 L2291.4 1219.9 L2282.0 1239.6 L2269.3 1259.3 L2278.0 1279.0 L2290.4 1298.6 L2310.9 1318.3 L2323.2 1338.0 L2334.4 1357.7 L2352.6 1377.3 L2331.4 1397.0 L2378.4 1416.7 L2377.3 1436.4 L2393.0 1456.0 L2379.0 1475.7 L2368.4 1495.4 L2388.1 1515.0 L2383.8 1534.7 L2349.0 1554.4 L2370.9 1574.1 L2377.8 1593.8 L2317.9 1613.4 L2355.7 1633.1 L2370.0 1652.8 L2315.1 1672.5 L2364.4 1692.1 L2350.6 1711.8 L2282.5 1731.5 L2235.3 1751.2 L2276.1 1770.8 L2492.9 1790.5 L2369.4 1810.2 L2374.8 1829.9 L2240.1 1849.5 L2236.3 1869.2 L2289.9 1888.9" stroke="#963028"/>
<path d="M2249.4 216.5 L2249.5 236.2 L2250.6 255.8 L2248.7 275.5 L2249.9 295.2 L2250.6 314.9 L2250.8 334.6 L2249.8 354.2 L2249.3 373.9 L2249.3 393.6 L2248.2 413.2 L2248.3 432.9 L2247.0 452.6 L2248.6 472.3 L2247.8 491.9 L2248.7 511.6 L2249.9 531.3 L2248.9 551.0 L2249.3 570.7 L2250.3 590.3 L2251.7 610.0 L2249.6 629.7 L2249.3 649.4 L2249.0 669.0 L2250.0 688.7 L2249.6 708.4 L2249.6 728.0 L2249.7 747.7 L2249.7 767.4 L2251.9 787.1 L2251.5 806.8 L2252.0 826.4 L2252.9 846.1 L2254.4 865.8 L2255.4 885.5 L2253.0 905.1 L2252.3 924.8 L2248.6 944.5 L2248.5 964.1 L2251.1 983.8 L2250.9 1003.5 L2249.9 1023.2 L2255.7 1042.8 L2251.7 1062.5 L2252.5 1082.2 L2261.3 1101.9 L2268.3 1121.6 L2278.9 1141.2 L2284.8 1160.9 L2289.3 1180.6 L2290.2 1200.2 L2284.6 1219.9 L2286.9 1239.6 L2277.6 1259.3 L2286.3 1279.0 L2304.9 1298.6 L2316.0 1318.3 L2336.9 1338.0 L2345.6 1357.7 L2359.6 1377.3 L2358.4 1397.0 L2374.1 1416.7 L2369.9 1436.4 L2367.8 1456.0 L2377.7 1475.7 L2387.4 1495.4 L2385.8 1515.0 L2372.1 1534.7 L2368.1 1554.4 L2337.1 1574.1 L2316.9 1593.8 L2322.0 1613.4 L2314.7 1633.1 L2308.6 1652.8 L2271.2 1672.5 L2331.7 1692.1 L2460.4 1711.8 L2449.3 1731.5 L3270.7 1751.2 L2427.1 1770.8 L2127.4 1790.5 L2360.5 1810.2 L2382.7 1829.9 L2344.7 1849.5 L2465.1 1869.2 L2171.4 1888.9" stroke="#a1362e"/>
<path d="M2248.0 216.5 L2248.1 236.2 L2248.8 255.8 L2248.8 275.5 L2247.9 295.2 L2249.0 314.9 L2250.0 334.6 L2249.7 354.2 L2249.7 373.9 L2250.3 393.6 L2249.2 413.2 L2250.8 432.9 L2249.7 452.6 L2248.6 472.3 L2248.2 491.9 L2248.4 511.6 L2247.3 531.3 L2247.8 551.0 L2246.9 570.7 L2247.1 590.3 L2248.7 610.0 L2249.1 629.7 L2247.9 649.4 L2248.5 669.0 L2247.0 688.7 L2249.0 708.4 L2249.9 728.0 L2249.0 747.7 L2248.2 767.4 L2250.2 787.1 L2249.7 806.8 L2250.1 826.4 L2251.4 846.1 L2251.2 865.8 L2253.5 885.5 L2251.3 905.1 L2252.4 924.8 L2253.0 944.5 L2250.2 964.1 L2250.4 983.8 L2254.7 1003.5 L2253.9 1023.2 L2256.0 1042.8 L2258.0 1062.5 L2255.8 1082.2 L2258.2 1101.9 L2256.0 1121.6 L2265.7 1141.2 L2261.5 1160.9 L2275.1 1180.6 L2274.8 1200.2 L2271.0 1219.9 L2278.5 1239.6 L2282.5 1259.3 L2301.0 1279.0 L2307.8 1298.6 L2313.8 1318.3 L2323.2 1338.0 L2343.6 1357.7 L2371.7 1377.3 L2396.2 1397.0 L2389.9 1416.7 L2380.1 1436.4 L2361.0 1456.0 L2377.8 1475.7 L2363.9 1495.4 L2347.1 1515.0 L2350.7 1534.7 L2345.5 1554.4 L2335.6 1574.1 L2335.5 1593.8 L2348.1 1613.4 L2264.4 1633.1 L2334.0 1652.8 L2367.4 1672.5 L2348.8 1692.1 L2344.8 1711.8 L2345.1 1731.5 L2334.6 1751.2 L2307.8 1770.8 L2279.6 1790.5 L2360.5 1810.2 L2697.9 1829.9 L2682.4 1849.5 L2160.7 1869.2 L2233.2 1888.9" stroke="#ad3c33"/>
<path d="M2249.0 216.5 L2248.7 236.2 L2249.5 255.8 L2250.0 275.5 L2250.7 295.2 L2250.5 314.9 L2250.7 334.6 L2250.4 354.2 L2250.6 373.9 L2249.4 393.6 L2248.7 413.2 L2249.3 432.9 L2250.6 452.6 L2250.1 472.3 L2249.4 491.9 L2248.4 511.6 L2248.1 531.3 L2248.6 551.0 L2248.8 570.7 L2248.1 590.3 L2247.7 610.0 L2248.6 629.7 L2246.5 649.4 L2248.4 669.0 L2249.1 688.7 L2248.8 708.4 L2249.8 728.0 L2249.0 747.7 L2249.3 767.4 L2249.0 787.1 L2248.6 806.8 L2250.8 826.4 L2250.6 846.1 L2250.3 865.8 L2249.1 885.5 L2249.7 905.1 L2252.0 924.8 L2252.3 944.5 L2252.5 964.1 L2256.1 983.8 L2258.6 1003.5 L2259.2 1023.2 L2255.8 1042.8 L2263.0 1062.5 L2262.3 1082.2 L2270.8 1101.9 L2263.9 1121.6 L2267.4 1141.2 L2265.7 1160.9 L2277.9 1180.6 L2277.8 1200.2 L2273.5 1219.9 L2272.8 1239.6 L2285.6 1259.3 L2288.5 1279.0 L2296.4 1298.6 L2305.9 1318.3 L2333.1 1338.0 L2358.3 1357.7 L2350.6 1377.3 L2345.3 1397.0 L2375.2 1416.7 L2363.8 1436.4 L2369.2 1456.0 L2363.9 1475.7 L2341.9 1495.4 L2338.9 1515.0 L2337.6 1534.7 L2384.2 1554.4 L2377.6 1574.1 L2345.3 1593.8 L2330.0 1613.4 L2382.7 1633.1 L2404.9 1652.8 L2959.9 1672.5 L2982.1 1692.1" stroke="#b94238"/>
<path d="M2249.1 216.5 L2248.5 236.2 L2247.2 255.8 L2247.5 275.5 L2248.8 295.2 L2248.6 314.9 L2247.7 334.6 L2247.2 354.2 L2248.1 373.9 L2249.4 393.6 L2249.8 413.2 L2248.8 432.9 L2249.0 452.6 L2248.5 472.3 L2248.6 491.9 L2248.1 511.6 L2249.3 531.3 L2250.5 551.0 L2250.5 570.7 L2249.1 590.3 L2249.3 610.0 L2250.5 629.7 L2250.4 649.4 L2252.3 669.0 L2250.7 688.7 L2251.8 708.4 L2249.0 728.0 L2250.1 747.7 L2250.0 767.4 L2250.7 787.1 L2251.3 806.8 L2252.2 826.4 L2252.1 846.1 L2254.0 865.8 L2253.1 885.5 L2250.4 905.1 L2248.8 924.8 L2254.3 944.5 L2252.9 964.1 L2253.5 983.8 L2254.0 1003.5 L2259.8 1023.2 L2259.4 1042.8 L2253.0 1062.5 L2266.8 1082.2 L2269.3 1101.9 L2251.6 1121.6 L2260.6 1141.2 L2270.9 1160.9 L2279.1 1180.6 L2277.1 1200.2 L2283.5 1219.9 L2277.4 1239.6 L2279.7 1259.3 L2295.9 1279.0 L2305.5 1298.6 L2317.1 1318.3 L2319.1 1338.0 L2344.4 1357.7 L2359.3 1377.3 L2373.6 1397.0 L2386.3 1416.7 L2396.7 1436.4 L2389.9 1456.0 L2394.5 1475.7 L2376.6 1495.4 L2359.5 1515.0 L2387.6 1534.7 L2449.3 1554.4 L2420.6 1574.1 L2402.0 1593.8 L2376.1 1613.4 L2339.3 1633.1 L2336.6 1652.8 L2378.9 1672.5 L2385.6 1692.1 L2374.5 1711.8 L2375.4 1731.5 L2435.5 1751.2 L2399.7 1770.8 L2349.4 1790.5 L2404.9 1810.2 L2948.8 1829.9" stroke="#c5493d"/>
<path d="M2248.8 216.5 L2247.4 236.2 L2246.8 255.8 L2248.2 275.5 L2248.6 295.2 L2248.5 314.9 L2248.5 334.6 L2249.5 354.2 L2247.5 373.9 L2249.9 393.6 L2250.5 413.2 L2249.7 432.9 L2250.1 452.6 L2249.6 472.3 L2250.1 491.9 L2249.2 511.6 L2249.6 531.3 L2249.7 551.0 L2250.3 570.7 L2249.7 590.3 L2249.1 610.0 L2249.3 629.7 L2250.6 649.4 L2249.0 669.0 L2248.7 688.7 L2249.5 708.4 L2248.9 728.0 L2247.9 747.7 L2248.0 767.4 L2248.9 787.1 L2250.4 806.8 L2252.9 826.4 L2253.2 846.1 L2252.7 865.8 L2253.0 885.5 L2254.4 905.1 L2257.2 924.8 L2257.7 944.5 L2253.3 964.1 L2256.3 983.8 L2261.6 1003.5 L2267.2 1023.2 L2267.3 1042.8 L2270.2 1062.5 L2257.6 1082.2 L2267.1 1101.9 L2270.6 1121.6 L2274.5 1141.2 L2279.0 1160.9 L2278.6 1180.6 L2265.7 1200.2 L2281.6 1219.9 L2272.8 1239.6 L2267.2 1259.3 L2286.9 1279.0 L2296.3 1298.6 L2311.6 1318.3 L2319.5 1338.0 L2330.3 1357.7 L2360.5 1377.3 L2370.1 1397.0 L2381.8 1416.7 L2399.9 1436.4 L2396.6 1456.0 L2400.1 1475.7 L2404.8 1495.4 L2379.6 1515.0 L2384.1 1534.7 L2359.5 1554.4 L2357.5 1574.1 L2374.6 1593.8 L2337.3 1613.4 L2328.5 1633.1 L2335.5 1652.8 L2351.8 1672.5 L2337.8 1692.1 L2404.7 1711.8 L2443.4 1731.5 L2347.5 1751.2 L2298.9 1770.8 L2163.3 1790.5 L2279.3 1810.2 L2269.9 1829.9 L2201.3 1849.5 L2193.0 1869.2 L2434.0 1888.9" stroke="#d04f42"/>
<path d="M2250.4 216.5 L2250.8 236.2 L2250.7 255.8 L2249.9 275.5 L2249.5 295.2 L2250.0 314.9 L2249.4 334.6 L2250.0 354.2 L2249.5 373.9 L2247.7 393.6 L2248.3 413.2 L2247.8 432.9 L2248.7 452.6 L2247.9 472.3 L2248.2 491.9 L2247.6 511.6 L2248.2 531.3 L2248.5 551.0 L2248.7 570.7 L2249.1 590.3 L2248.6 610.0 L2248.5 629.7 L2247.4 649.4 L2248.9 669.0 L2247.2 688.7 L2247.9 708.4 L2250.2 728.0 L2249.3 747.7 L2249.8 767.4 L2249.3 787.1 L2251.2 806.8 L2248.8 826.4 L2251.0 846.1 L2249.5 865.8 L2251.4 885.5 L2249.7 905.1 L2252.0 924.8 L2252.7 944.5 L2250.2 964.1 L2248.5 983.8 L2251.0 1003.5 L2260.4 1023.2 L2263.2 1042.8 L2262.1 1062.5 L2270.4 1082.2 L2278.9 1101.9 L2270.0 1121.6 L2269.3 1141.2 L2274.6 1160.9 L2277.1 1180.6 L2285.2 1200.2 L2277.3 1219.9 L2275.1 1239.6 L2278.8 1259.3 L2291.1 1279.0 L2296.0 1298.6 L2331.5 1318.3 L2358.8 1338.0 L2362.5 1357.7 L2380.1 1377.3 L2387.8 1397.0 L2371.9 1416.7 L2397.5 1436.4 L2375.6 1456.0 L2396.7 1475.7 L2401.7 1495.4 L2383.1 1515.0 L2380.6 1534.7 L2310.1 1554.4 L2339.7 1574.1 L2321.8 1593.8 L2289.4 1613.4 L2317.3 1633.1 L2310.6 1652.8 L2351.4 1672.5 L2347.9 1692.1 L2355.7 1711.8 L2401.0 1731.5 L2422.5 1751.2 L2298.8 1770.8 L2404.9 1790.5 L2349.4 1810.2 L2216.2 1829.9 L2654.7 1849.5" stroke="#dc5547"/>
<path d="M2250.7 216.5 L2249.3 236.2 L2248.8 255.8 L2248.2 275.5 L2248.3 295.2 L2247.7 314.9 L2248.2 334.6 L2247.9 354.2 L2248.6 373.9 L2249.2 393.6 L2249.7 413.2 L2250.8 432.9 L2250.2 452.6 L2249.8 472.3 L2248.9 491.9 L2248.4 511.6 L2248.6 531.3 L2249.8 551.0 L2249.5 570.7 L2251.2 590.3 L2248.6 610.0 L2248.4 629.7 L2250.0 649.4 L2249.3 669.0 L2247.6 688.7 L2247.3 708.4 L2245.8 728.0 L2247.0 747.7 L2247.0 767.4 L2248.0 787.1 L2249.4 806.8 L2249.7 826.4 L2252.0 846.1 L2252.9 865.8 L2251.8 885.5 L2254.2 905.1 L2249.9 924.8 L2248.4 944.5 L2247.5 964.1 L2251.0 983.8 L2256.9 1003.5 L2258.7 1023.2 L2257.8 1042.8 L2264.5 1062.5 L2259.6 1082.2 L2258.0 1101.9 L2265.9 1121.6 L2261.6 1141.2 L2272.8 1160.9 L2273.3 1180.6 L2275.5 1200.2 L2287.9 1219.9 L2280.7 1239.6 L2285.0 1259.3 L2294.6 1279.0 L2303.6 1298.6 L2329.2 1318.3 L2337.7 1338.0 L2369.1 1357.7 L2367.3 1377.3 L2389.9 1397.0 L2399.7 1416.7 L2399.0 1436.4 L2388.9 1456.0 L2393.5 1475.7 L2401.1 1495.4 L2377.5 1515.0 L2395.3 1534.7 L2419.6 1554.4 L2382.1 1574.1 L2377.6 1593.8 L2366.1 1613.4 L2368.9 1633.1 L2340.5 1652.8 L2312.4 1672.5 L2321.2 1692.1 L2330.4 1711.8 L2319.3 1731.5 L2346.5 1751.2 L2234.3 1770.8 L2301.2 1790.5 L2335.9 1810.2 L2426.3 1829.9 L2348.7 1849.5 L2485.8 1869.2 L2444.9 1888.9" stroke="#e85b4c"/>
</g>
</g>
<rect x="2138.50" y="216.50" width="1222.00" height="1652.00" fill="none" stroke="#fff" stroke-width="5.2"/>
<rect x="2126.50" y="1789.20" width="10" height="2.6" fill="#fff"/>
<rect x="2126.50" y="1592.45" width="10" height="2.6" fill="#fff"/>
<rect x="2126.50" y="1395.70" width="10" height="2.6" fill="#fff"/>
<rect x="2126.50" y="1198.95" width="10" height="2.6" fill="#fff"/>
<rect x="2126.50" y="1002.20" width="10" height="2.6" fill="#fff"/>
<rect x="2126.50" y="805.45" width="10" height="2.6" fill="#fff"/>
<rect x="2126.50" y="608.70" width="10" height="2.6" fill="#fff"/>
<rect x="2126.50" y="411.95" width="10" height="2.6" fill="#fff"/>
<rect x="2126.50" y="215.20" width="10" height="2.6" fill="#fff"/>
<rect x="2248.20" y="1870.90" width="2.6" height="10" fill="#fff"/>
<rect x="2470.20" y="1870.90" width="2.6" height="10" fill="#fff"/>
<rect x="2692.20" y="1870.90" width="2.6" height="10" fill="#fff"/>
<rect x="2914.20" y="1870.90" width="2.6" height="10" fill="#fff"/>
<rect x="3136.20" y="1870.90" width="2.6" height="10" fill="#fff"/>
<rect x="3358.20" y="1870.90" width="2.6" height="10" fill="#fff"/>
<text transform="translate(595.19,1806.80) scale(1.0590,1)" font-family="'Liberation Sans', sans-serif" font-weight="normal" font-size="45.06" fill="#fff" stroke="#fff" stroke-width="0.80" stroke-linejoin="round">10</text>
<text transform="translate(595.33,1610.05) scale(1.0590,1)" font-family="'Liberation Sans', sans-serif" font-weight="normal" font-size="45.06" fill="#fff" stroke="#fff" stroke-width="0.80" stroke-linejoin="round">15</text>
<text transform="translate(595.19,1413.30) scale(1.0590,1)" font-family="'Liberation Sans', sans-serif" font-weight="normal" font-size="45.06" fill="#fff" stroke="#fff" stroke-width="0.80" stroke-linejoin="round">20</text>
<text transform="translate(595.33,1216.55) scale(1.0590,1)" font-family="'Liberation Sans', sans-serif" font-weight="normal" font-size="45.06" fill="#fff" stroke="#fff" stroke-width="0.80" stroke-linejoin="round">25</text>
<text transform="translate(595.19,1019.80) scale(1.0590,1)" font-family="'Liberation Sans', sans-serif" font-weight="normal" font-size="45.06" fill="#fff" stroke="#fff" stroke-width="0.80" stroke-linejoin="round">30</text>
<text transform="translate(595.33,823.05) scale(1.0590,1)" font-family="'Liberation Sans', sans-serif" font-weight="normal" font-size="45.06" fill="#fff" stroke="#fff" stroke-width="0.80" stroke-linejoin="round">35</text>
<text transform="translate(595.19,626.30) scale(1.0590,1)" font-family="'Liberation Sans', sans-serif" font-weight="normal" font-size="45.06" fill="#fff" stroke="#fff" stroke-width="0.80" stroke-linejoin="round">40</text>
<text transform="translate(595.33,429.55) scale(1.0590,1)" font-family="'Liberation Sans', sans-serif" font-weight="normal" font-size="45.06" fill="#fff" stroke="#fff" stroke-width="0.80" stroke-linejoin="round">45</text>
<text transform="translate(595.19,232.80) scale(1.0590,1)" font-family="'Liberation Sans', sans-serif" font-weight="normal" font-size="45.06" fill="#fff" stroke="#fff" stroke-width="0.80" stroke-linejoin="round">50</text>
<text transform="translate(2061.19,1806.80) scale(1.0590,1)" font-family="'Liberation Sans', sans-serif" font-weight="normal" font-size="45.06" fill="#fff" stroke="#fff" stroke-width="0.80" stroke-linejoin="round">10</text>
<text transform="translate(2061.33,1610.05) scale(1.0590,1)" font-family="'Liberation Sans', sans-serif" font-weight="normal" font-size="45.06" fill="#fff" stroke="#fff" stroke-width="0.80" stroke-linejoin="round">15</text>
<text transform="translate(2061.19,1413.30) scale(1.0590,1)" font-family="'Liberation Sans', sans-serif" font-weight="normal" font-size="45.06" fill="#fff" stroke="#fff" stroke-width="0.80" stroke-linejoin="round">20</text>
<text transform="translate(2061.33,1216.55) scale(1.0590,1)" font-family="'Liberation Sans', sans-serif" font-weight="normal" font-size="45.06" fill="#fff" stroke="#fff" stroke-width="0.80" stroke-linejoin="round">25</text>
<text transform="translate(2061.19,1019.80) scale(1.0590,1)" font-family="'Liberation Sans', sans-serif" font-weight="normal" font-size="45.06" fill="#fff" stroke="#fff" stroke-width="0.80" stroke-linejoin="round">30</text>
<text transform="translate(2061.33,823.05) scale(1.0590,1)" font-family="'Liberation Sans', sans-serif" font-weight="normal" font-size="45.06" fill="#fff" stroke="#fff" stroke-width="0.80" stroke-linejoin="round">35</text>
<text transform="translate(2061.19,626.30) scale(1.0590,1)" font-family="'Liberation Sans', sans-serif" font-weight="normal" font-size="45.06" fill="#fff" stroke="#fff" stroke-width="0.80" stroke-linejoin="round">40</text>
<text transform="translate(2061.33,429.55) scale(1.0590,1)" font-family="'Liberation Sans', sans-serif" font-weight="normal" font-size="45.06" fill="#fff" stroke="#fff" stroke-width="0.80" stroke-linejoin="round">45</text>
<text transform="translate(2061.19,232.80) scale(1.0590,1)" font-family="'Liberation Sans', sans-serif" font-weight="normal" font-size="45.06" fill="#fff" stroke="#fff" stroke-width="0.80" stroke-linejoin="round">50</text>
<text transform="translate(721.65,1926.50) scale(1.0562,1)" font-family="'Liberation Sans', sans-serif" font-weight="normal" font-size="46.05" fill="#fff" stroke="#fff" stroke-width="0.80" stroke-linejoin="round">0.000</text>
<text transform="translate(943.92,1926.50) scale(1.0562,1)" font-family="'Liberation Sans', sans-serif" font-weight="normal" font-size="46.05" fill="#fff" stroke="#fff" stroke-width="0.80" stroke-linejoin="round">0.002</text>
<text transform="translate(1165.41,1926.50) scale(1.0562,1)" font-family="'Liberation Sans', sans-serif" font-weight="normal" font-size="46.05" fill="#fff" stroke="#fff" stroke-width="0.80" stroke-linejoin="round">0.004</text>
<text transform="translate(1387.77,1926.50) scale(1.0562,1)" font-family="'Liberation Sans', sans-serif" font-weight="normal" font-size="46.05" fill="#fff" stroke="#fff" stroke-width="0.80" stroke-linejoin="round">0.006</text>
<text transform="translate(1609.76,1926.50) scale(1.0562,1)" font-family="'Liberation Sans', sans-serif" font-weight="normal" font-size="46.05" fill="#fff" stroke="#fff" stroke-width="0.80" stroke-linejoin="round">0.008</text>
<text transform="translate(1831.65,1926.50) scale(1.0562,1)" font-family="'Liberation Sans', sans-serif" font-weight="normal" font-size="46.05" fill="#fff" stroke="#fff" stroke-width="0.80" stroke-linejoin="round">0.010</text>
<text transform="translate(2187.65,1926.50) scale(1.0562,1)" font-family="'Liberation Sans', sans-serif" font-weight="normal" font-size="46.05" fill="#fff" stroke="#fff" stroke-width="0.80" stroke-linejoin="round">0.000</text>
<text transform="translate(2409.92,1926.50) scale(1.0562,1)" font-family="'Liberation Sans', sans-serif" font-weight="normal" font-size="46.05" fill="#fff" stroke="#fff" stroke-width="0.80" stroke-linejoin="round">0.002</text>
<text transform="translate(2631.41,1926.50) scale(1.0562,1)" font-family="'Liberation Sans', sans-serif" font-weight="normal" font-size="46.05" fill="#fff" stroke="#fff" stroke-width="0.80" stroke-linejoin="round">0.004</text>
<text transform="translate(2853.77,1926.50) scale(1.0562,1)" font-family="'Liberation Sans', sans-serif" font-weight="normal" font-size="46.05" fill="#fff" stroke="#fff" stroke-width="0.80" stroke-linejoin="round">0.006</text>
<text transform="translate(3075.76,1926.50) scale(1.0562,1)" font-family="'Liberation Sans', sans-serif" font-weight="normal" font-size="46.05" fill="#fff" stroke="#fff" stroke-width="0.80" stroke-linejoin="round">0.008</text>
<text transform="translate(3297.65,1926.50) scale(1.0562,1)" font-family="'Liberation Sans', sans-serif" font-weight="normal" font-size="46.05" fill="#fff" stroke="#fff" stroke-width="0.80" stroke-linejoin="round">0.010</text>
<text transform="translate(852.72,2001.45) scale(1.0941,1)" font-family="'Liberation Sans', sans-serif" font-weight="normal" font-size="59.16" fill="#fff" stroke="#fff" stroke-width="0.90" stroke-linejoin="round">Aerosol</text>
<text transform="translate(1086.94,2001.45) scale(1.1349,1)" font-family="'Liberation Sans', sans-serif" font-weight="normal" font-size="59.16" fill="#fff" stroke="#fff" stroke-width="0.90" stroke-linejoin="round">Extinction</text>
<text transform="translate(1394.22,2001.45) scale(1.1403,1)" font-family="'Liberation Sans', sans-serif" font-weight="normal" font-size="59.16" fill="#fff" stroke="#fff" stroke-width="0.90" stroke-linejoin="round">Coefficient</text>
<text transform="translate(1186.02,2076.55) scale(1.1918,1)" font-family="'Liberation Sans', sans-serif" font-weight="normal" font-size="59.16" fill="#fff" stroke="#fff" stroke-width="0.90" stroke-linejoin="round">[km</text>
<text transform="translate(1362.67,2076.55) scale(1.2504,1)" font-family="'Liberation Sans', sans-serif" font-weight="normal" font-size="59.16" fill="#fff" stroke="#fff" stroke-width="0.90" stroke-linejoin="round">]</text>
<rect x="1305.10" y="2043.4" width="25.7" height="2.2" fill="#fff"/>
<text transform="translate(1333.96,2055.10) scale(0.9802,1)" font-family="'Liberation Serif', sans-serif" font-weight="normal" font-size="42.31" fill="#fff">1</text>
<text transform="translate(558.90,1232.70) rotate(-90) translate(0.32,-0.45) scale(1.1574,1)" font-family="'Liberation Sans', sans-serif" font-weight="normal" font-size="59.16" fill="#fff" stroke="#fff" stroke-width="0.90" stroke-linejoin="round">Altitude</text>
<text transform="translate(558.90,1232.70) rotate(-90) translate(244.04,-0.45) scale(1.2343,1)" font-family="'Liberation Sans', sans-serif" font-weight="normal" font-size="59.16" fill="#fff" stroke="#fff" stroke-width="0.90" stroke-linejoin="round">[km]</text>
<text transform="translate(2318.72,2001.45) scale(1.0941,1)" font-family="'Liberation Sans', sans-serif" font-weight="normal" font-size="59.16" fill="#fff" stroke="#fff" stroke-width="0.90" stroke-linejoin="round">Aerosol</text>
<text transform="translate(2552.94,2001.45) scale(1.1349,1)" font-family="'Liberation Sans', sans-serif" font-weight="normal" font-size="59.16" fill="#fff" stroke="#fff" stroke-width="0.90" stroke-linejoin="round">Extinction</text>
<text transform="translate(2860.22,2001.45) scale(1.1403,1)" font-family="'Liberation Sans', sans-serif" font-weight="normal" font-size="59.16" fill="#fff" stroke="#fff" stroke-width="0.90" stroke-linejoin="round">Coefficient</text>
<text transform="translate(2652.02,2076.55) scale(1.1918,1)" font-family="'Liberation Sans', sans-serif" font-weight="normal" font-size="59.16" fill="#fff" stroke="#fff" stroke-width="0.90" stroke-linejoin="round">[km</text>
<text transform="translate(2828.67,2076.55) scale(1.2504,1)" font-family="'Liberation Sans', sans-serif" font-weight="normal" font-size="59.16" fill="#fff" stroke="#fff" stroke-width="0.90" stroke-linejoin="round">]</text>
<rect x="2771.10" y="2043.4" width="25.7" height="2.2" fill="#fff"/>
<text transform="translate(2799.96,2055.10) scale(0.9802,1)" font-family="'Liberation Serif', sans-serif" font-weight="normal" font-size="42.31" fill="#fff">1</text>
<text transform="translate(2024.90,1232.70) rotate(-90) translate(0.32,-0.45) scale(1.1574,1)" font-family="'Liberation Sans', sans-serif" font-weight="normal" font-size="59.16" fill="#fff" stroke="#fff" stroke-width="0.90" stroke-linejoin="round">Altitude</text>
<text transform="translate(2024.90,1232.70) rotate(-90) translate(244.04,-0.45) scale(1.2343,1)" font-family="'Liberation Sans', sans-serif" font-weight="normal" font-size="59.16" fill="#fff" stroke="#fff" stroke-width="0.90" stroke-linejoin="round">[km]</text>
<text transform="translate(960.59,100.40) scale(0.9987,1)" font-family="'Liberation Sans', sans-serif" font-weight="bold" font-size="76.74" fill="#fff" stroke="#fff" stroke-width="2.20" stroke-linejoin="round">SAGE</text>
<path fill="#fff" d="M1211.20 47.20H1243.80V57.20H1234.60V91.50H1243.80V101.50H1211.20V91.50H1220.40V57.20H1211.20Z"/>
<path fill="#fff" d="M1256.00 47.20H1288.60V57.20H1279.40V91.50H1288.60V101.50H1256.00V91.50H1265.20V57.20H1256.00Z"/>
<path fill="#fff" d="M1300.90 47.20H1333.50V57.20H1324.30V91.50H1333.50V101.50H1300.90V91.50H1310.10V57.20H1300.90Z"/>
<path fill="#fff" d="M1391.90 47.20H1424.50V57.20H1415.30V91.50H1424.50V101.50H1391.90V91.50H1401.10V57.20H1391.90Z"/>
<path fill="#fff" d="M1339.5 112.4H1353.3L1385.7 45.8H1371.9Z"/>
<text transform="translate(1430.32,100.40) scale(0.9849,1)" font-family="'Liberation Sans', sans-serif" font-weight="bold" font-size="76.74" fill="#fff" stroke="#fff" stroke-width="2.20" stroke-linejoin="round">SS</text>
<text transform="translate(1558.77,100.40) scale(1.1469,1)" font-family="'Liberation Sans', sans-serif" font-weight="bold" font-size="76.74" fill="#fff" stroke="#fff" stroke-width="2.20" stroke-linejoin="round">449nm</text>
<text transform="translate(1862.06,100.40) scale(1.0651,1)" font-family="'Liberation Sans', sans-serif" font-weight="bold" font-size="76.74" fill="#fff" stroke="#fff" stroke-width="2.20" stroke-linejoin="round">Aerosol</text>
<text transform="translate(2195.94,100.40) scale(1.1023,1)" font-family="'Liberation Sans', sans-serif" font-weight="bold" font-size="76.74" fill="#fff" stroke="#fff" stroke-width="2.20" stroke-linejoin="round">Extinction</text>
<text transform="translate(2630.72,100.40) scale(1.1061,1)" font-family="'Liberation Sans', sans-serif" font-weight="bold" font-size="76.74" fill="#fff" stroke="#fff" stroke-width="2.20" stroke-linejoin="round">Coefficient</text>
<text transform="translate(1632.48,187.60) scale(1.0596,1)" font-family="'Liberation Sans', sans-serif" font-weight="bold" font-size="76.74" fill="#fff" stroke="#fff" stroke-width="2.20" stroke-linejoin="round">20</text>
<text transform="translate(1756.77,187.60) scale(1.1162,1)" font-family="'Liberation Sans', sans-serif" font-weight="bold" font-size="76.74" fill="#fff" stroke="#fff" stroke-width="2.20" stroke-linejoin="round">November</text>
<text transform="translate(2205.32,187.60) scale(1.1208,1)" font-family="'Liberation Sans', sans-serif" font-weight="bold" font-size="76.74" fill="#fff" stroke="#fff" stroke-width="2.20" stroke-linejoin="round">2024</text>
<text transform="translate(1158.90,194.85) scale(1.0342,1)" font-family="'Liberation Sans', sans-serif" font-weight="bold" font-size="65.55" fill="#fff" stroke="#fff" stroke-width="1.50" stroke-linejoin="round">Sunrise</text>
<text transform="translate(2636.62,194.85) scale(1.0215,1)" font-family="'Liberation Sans', sans-serif" font-weight="bold" font-size="65.55" fill="#fff" stroke="#fff" stroke-width="1.50" stroke-linejoin="round">Sunset</text>
<rect x="13.90" y="759.30" width="423.90" height="897.00" rx="8" ry="8" fill="#000" stroke="#a9a9a9" stroke-width="3.4"/>
<rect x="3380.30" y="759.30" width="421.00" height="897.00" rx="8" ry="8" fill="#000" stroke="#a9a9a9" stroke-width="3.4"/>
<rect x="23.9" y="785.80" width="90.2" height="10.2" fill="#094874"/>
<text transform="translate(141.36,804.55) scale(1.0058,1)" font-family="'Liberation Sans', sans-serif" font-weight="normal" font-size="39.27" fill="#fff" stroke="#fff" stroke-width="0.70" stroke-linejoin="round">2024112001SR</text>
<rect x="23.9" y="844.80" width="90.2" height="10.2" fill="#094d7b"/>
<text transform="translate(141.36,863.55) scale(1.0058,1)" font-family="'Liberation Sans', sans-serif" font-weight="normal" font-size="39.27" fill="#fff" stroke="#fff" stroke-width="0.70" stroke-linejoin="round">2024112004SR</text>
<rect x="23.9" y="903.80" width="90.2" height="10.2" fill="#095281"/>
<text transform="translate(141.36,922.55) scale(1.0058,1)" font-family="'Liberation Sans', sans-serif" font-weight="normal" font-size="39.27" fill="#fff" stroke="#fff" stroke-width="0.70" stroke-linejoin="round">2024112007SR</text>
<rect x="23.9" y="962.80" width="90.2" height="10.2" fill="#0a5788"/>
<text transform="translate(141.36,981.55) scale(1.0058,1)" font-family="'Liberation Sans', sans-serif" font-weight="normal" font-size="39.27" fill="#fff" stroke="#fff" stroke-width="0.70" stroke-linejoin="round">2024112010SR</text>
<rect x="23.9" y="1021.80" width="90.2" height="10.2" fill="#0a5b8e"/>
<text transform="translate(141.36,1040.55) scale(1.0058,1)" font-family="'Liberation Sans', sans-serif" font-weight="normal" font-size="39.27" fill="#fff" stroke="#fff" stroke-width="0.70" stroke-linejoin="round">2024112013SR</text>
<rect x="23.9" y="1080.80" width="90.2" height="10.2" fill="#0a6095"/>
<text transform="translate(141.36,1099.55) scale(1.0058,1)" font-family="'Liberation Sans', sans-serif" font-weight="normal" font-size="39.27" fill="#fff" stroke="#fff" stroke-width="0.70" stroke-linejoin="round">2024112016SR</text>
<rect x="23.9" y="1139.80" width="90.2" height="10.2" fill="#0a659b"/>
<text transform="translate(141.36,1158.55) scale(1.0058,1)" font-family="'Liberation Sans', sans-serif" font-weight="normal" font-size="39.27" fill="#fff" stroke="#fff" stroke-width="0.70" stroke-linejoin="round">2024112019SR</text>
<rect x="23.9" y="1198.80" width="90.2" height="10.2" fill="#0a6aa2"/>
<text transform="translate(141.36,1217.55) scale(1.0058,1)" font-family="'Liberation Sans', sans-serif" font-weight="normal" font-size="39.27" fill="#fff" stroke="#fff" stroke-width="0.70" stroke-linejoin="round">2024112022SR</text>
<rect x="23.9" y="1257.80" width="90.2" height="10.2" fill="#0b6fa9"/>
<text transform="translate(141.36,1276.55) scale(1.0058,1)" font-family="'Liberation Sans', sans-serif" font-weight="normal" font-size="39.27" fill="#fff" stroke="#fff" stroke-width="0.70" stroke-linejoin="round">2024112025SR</text>
<rect x="23.9" y="1316.80" width="90.2" height="10.2" fill="#0b74af"/>
<text transform="translate(141.36,1335.55) scale(1.0058,1)" font-family="'Liberation Sans', sans-serif" font-weight="normal" font-size="39.27" fill="#fff" stroke="#fff" stroke-width="0.70" stroke-linejoin="round">2024112031SR</text>
<rect x="23.9" y="1375.80" width="90.2" height="10.2" fill="#0b79b6"/>
<text transform="translate(141.36,1394.55) scale(1.0058,1)" font-family="'Liberation Sans', sans-serif" font-weight="normal" font-size="39.27" fill="#fff" stroke="#fff" stroke-width="0.70" stroke-linejoin="round">2024112034SR</text>
<rect x="23.9" y="1434.80" width="90.2" height="10.2" fill="#0b7dbc"/>
<text transform="translate(141.36,1453.55) scale(1.0058,1)" font-family="'Liberation Sans', sans-serif" font-weight="normal" font-size="39.27" fill="#fff" stroke="#fff" stroke-width="0.70" stroke-linejoin="round">2024112037SR</text>
<rect x="23.9" y="1493.80" width="90.2" height="10.2" fill="#0c82c3"/>
<text transform="translate(141.36,1512.55) scale(1.0058,1)" font-family="'Liberation Sans', sans-serif" font-weight="normal" font-size="39.27" fill="#fff" stroke="#fff" stroke-width="0.70" stroke-linejoin="round">2024112040SR</text>
<rect x="23.9" y="1552.80" width="90.2" height="10.2" fill="#0c87c9"/>
<text transform="translate(141.36,1571.55) scale(1.0058,1)" font-family="'Liberation Sans', sans-serif" font-weight="normal" font-size="39.27" fill="#fff" stroke="#fff" stroke-width="0.70" stroke-linejoin="round">2024112043SR</text>
<rect x="23.9" y="1611.80" width="90.2" height="10.2" fill="#0c8cd0"/>
<text transform="translate(141.36,1630.55) scale(1.0058,1)" font-family="'Liberation Sans', sans-serif" font-weight="normal" font-size="39.27" fill="#fff" stroke="#fff" stroke-width="0.70" stroke-linejoin="round">2024112046SR</text>
<rect x="3391.1" y="785.80" width="90" height="10.2" fill="#430505"/>
<text transform="translate(3508.36,804.55) scale(1.0058,1)" font-family="'Liberation Sans', sans-serif" font-weight="normal" font-size="39.27" fill="#fff" stroke="#fff" stroke-width="0.70" stroke-linejoin="round">2024112003SS</text>
<rect x="3391.1" y="844.80" width="90" height="10.2" fill="#4f0b0a"/>
<text transform="translate(3508.36,863.55) scale(1.0058,1)" font-family="'Liberation Sans', sans-serif" font-weight="normal" font-size="39.27" fill="#fff" stroke="#fff" stroke-width="0.70" stroke-linejoin="round">2024112006SS</text>
<rect x="3391.1" y="903.80" width="90" height="10.2" fill="#5b110f"/>
<text transform="translate(3508.36,922.55) scale(1.0058,1)" font-family="'Liberation Sans', sans-serif" font-weight="normal" font-size="39.27" fill="#fff" stroke="#fff" stroke-width="0.70" stroke-linejoin="round">2024112009SS</text>
<rect x="3391.1" y="962.80" width="90" height="10.2" fill="#661714"/>
<text transform="translate(3508.36,981.55) scale(1.0058,1)" font-family="'Liberation Sans', sans-serif" font-weight="normal" font-size="39.27" fill="#fff" stroke="#fff" stroke-width="0.70" stroke-linejoin="round">2024112012SS</text>
<rect x="3391.1" y="1021.80" width="90" height="10.2" fill="#721e19"/>
<text transform="translate(3508.36,1040.55) scale(1.0058,1)" font-family="'Liberation Sans', sans-serif" font-weight="normal" font-size="39.27" fill="#fff" stroke="#fff" stroke-width="0.70" stroke-linejoin="round">2024112015SS</text>
<rect x="3391.1" y="1080.80" width="90" height="10.2" fill="#7e241e"/>
<text transform="translate(3508.36,1099.55) scale(1.0058,1)" font-family="'Liberation Sans', sans-serif" font-weight="normal" font-size="39.27" fill="#fff" stroke="#fff" stroke-width="0.70" stroke-linejoin="round">2024112018SS</text>
<rect x="3391.1" y="1139.80" width="90" height="10.2" fill="#8a2a23"/>
<text transform="translate(3508.36,1158.55) scale(1.0058,1)" font-family="'Liberation Sans', sans-serif" font-weight="normal" font-size="39.27" fill="#fff" stroke="#fff" stroke-width="0.70" stroke-linejoin="round">2024112021SS</text>
<rect x="3391.1" y="1198.80" width="90" height="10.2" fill="#963028"/>
<text transform="translate(3508.36,1217.55) scale(1.0058,1)" font-family="'Liberation Sans', sans-serif" font-weight="normal" font-size="39.27" fill="#fff" stroke="#fff" stroke-width="0.70" stroke-linejoin="round">2024112024SS</text>
<rect x="3391.1" y="1257.80" width="90" height="10.2" fill="#a1362e"/>
<text transform="translate(3508.36,1276.55) scale(1.0058,1)" font-family="'Liberation Sans', sans-serif" font-weight="normal" font-size="39.27" fill="#fff" stroke="#fff" stroke-width="0.70" stroke-linejoin="round">2024112027SS</text>
<rect x="3391.1" y="1316.80" width="90" height="10.2" fill="#ad3c33"/>
<text transform="translate(3508.36,1335.55) scale(1.0058,1)" font-family="'Liberation Sans', sans-serif" font-weight="normal" font-size="39.27" fill="#fff" stroke="#fff" stroke-width="0.70" stroke-linejoin="round">2024112030SS</text>
<rect x="3391.1" y="1375.80" width="90" height="10.2" fill="#b94238"/>
<text transform="translate(3508.36,1394.55) scale(1.0058,1)" font-family="'Liberation Sans', sans-serif" font-weight="normal" font-size="39.27" fill="#fff" stroke="#fff" stroke-width="0.70" stroke-linejoin="round">2024112033SS</text>
<rect x="3391.1" y="1434.80" width="90" height="10.2" fill="#c5493d"/>
<text transform="translate(3508.36,1453.55) scale(1.0058,1)" font-family="'Liberation Sans', sans-serif" font-weight="normal" font-size="39.27" fill="#fff" stroke="#fff" stroke-width="0.70" stroke-linejoin="round">2024112036SS</text>
<rect x="3391.1" y="1493.80" width="90" height="10.2" fill="#d04f42"/>
<text transform="translate(3508.36,1512.55) scale(1.0058,1)" font-family="'Liberation Sans', sans-serif" font-weight="normal" font-size="39.27" fill="#fff" stroke="#fff" stroke-width="0.70" stroke-linejoin="round">2024112039SS</text>
<rect x="3391.1" y="1552.80" width="90" height="10.2" fill="#dc5547"/>
<text transform="translate(3508.36,1571.55) scale(1.0058,1)" font-family="'Liberation Sans', sans-serif" font-weight="normal" font-size="39.27" fill="#fff" stroke="#fff" stroke-width="0.70" stroke-linejoin="round">2024112042SS</text>
<rect x="3391.1" y="1611.80" width="90" height="10.2" fill="#e85b4c"/>
<text transform="translate(3508.36,1630.55) scale(1.0058,1)" font-family="'Liberation Sans', sans-serif" font-weight="normal" font-size="39.27" fill="#fff" stroke="#fff" stroke-width="0.70" stroke-linejoin="round">2024112045SS</text>
<path d="M40.1 1980H120" stroke="#fff" stroke-width="10.4" stroke-dasharray="37 16" fill="none"/>
<path d="M40.1 2039.8H120" stroke="#fff" stroke-width="10.4" stroke-dasharray="10 16.6" fill="none"/>
<rect x="40.4" y="2085.5" width="80.2" height="27.8" fill="#6a6c72" stroke="#8f9195" stroke-width="2.6"/>
<text transform="translate(151.76,1993.00) scale(1.1130,1)" font-family="'Liberation Sans', sans-serif" font-weight="normal" font-size="38.81" fill="#fff" stroke="#fff" stroke-width="0.80" stroke-linejoin="round">Mean</text>
<text transform="translate(271.94,1993.00) scale(1.1065,1)" font-family="'Liberation Sans', sans-serif" font-weight="normal" font-size="38.81" fill="#fff" stroke="#fff" stroke-width="0.80" stroke-linejoin="round">Tropopause</text>
<text transform="translate(151.70,2053.10) scale(1.1293,1)" font-family="'Liberation Sans', sans-serif" font-weight="normal" font-size="38.81" fill="#fff" stroke="#fff" stroke-width="0.80" stroke-linejoin="round">Median</text>
<text transform="translate(308.03,2053.10) scale(1.1089,1)" font-family="'Liberation Sans', sans-serif" font-weight="normal" font-size="38.81" fill="#fff" stroke="#fff" stroke-width="0.80" stroke-linejoin="round">Tropopause</text>
<text transform="translate(153.13,2112.50) scale(1.1089,1)" font-family="'Liberation Sans', sans-serif" font-weight="normal" font-size="38.81" fill="#fff" stroke="#fff" stroke-width="0.80" stroke-linejoin="round">Tropopause</text>
<text transform="translate(394.08,2112.50) scale(1.1055,1)" font-family="'Liberation Sans', sans-serif" font-weight="normal" font-size="38.81" fill="#fff" stroke="#fff" stroke-width="0.80" stroke-linejoin="round">Range</text>
<text transform="translate(3267.81,2038.55) scale(1.1099,1)" font-family="'Liberation Sans', sans-serif" font-weight="normal" font-size="28.63" fill="#8b8b8b" stroke="#8b8b8b" stroke-width="0.50" stroke-linejoin="round">SAGE</text>
<path fill="#8b8b8b" d="M3368.70 2018.50H3382.70V2021.20H3377.35V2036.20H3382.70V2038.90H3368.70V2036.20H3374.05V2021.20H3368.70Z"/>
<path fill="#8b8b8b" d="M3383.80 2018.50H3397.40V2021.20H3392.25V2036.20H3397.40V2038.90H3383.80V2036.20H3388.95V2021.20H3383.80Z"/>
<path fill="#8b8b8b" d="M3398.70 2018.50H3412.20V2021.20H3407.10V2036.20H3412.20V2038.90H3398.70V2036.20H3403.80V2021.20H3398.70Z"/>
<path fill="#8b8b8b" d="M3434.70 2018.50H3448.40V2021.20H3443.20V2036.20H3448.40V2038.90H3434.70V2036.20H3439.90V2021.20H3434.70Z"/>
<path fill="#8b8b8b" d="M3415.3 2042.7H3419L3431.6 2014.6H3427.9Z"/>
<text transform="translate(3449.57,2038.55) scale(1.0623,1)" font-family="'Liberation Sans', sans-serif" font-weight="normal" font-size="28.63" fill="#8b8b8b" stroke="#8b8b8b" stroke-width="0.50" stroke-linejoin="round">SS</text>
<text transform="translate(3499.84,2038.55) scale(1.2407,1)" font-family="'Liberation Sans', sans-serif" font-weight="normal" font-size="28.63" fill="#8b8b8b" stroke="#8b8b8b" stroke-width="0.50" stroke-linejoin="round">Mission</text>
<rect x="3631.3" y="2014.3" width="3.0" height="30.3" fill="#8b8b8b"/>
<text transform="translate(3646.38,2038.55) scale(1.1804,1)" font-family="'Liberation Sans', sans-serif" font-weight="normal" font-size="28.63" fill="#8b8b8b" stroke="#8b8b8b" stroke-width="0.50" stroke-linejoin="round">NASA</text>
<text transform="translate(3749.86,2038.55) scale(1.2312,1)" font-family="'Liberation Sans', sans-serif" font-weight="normal" font-size="28.63" fill="#8b8b8b" stroke="#8b8b8b" stroke-width="0.50" stroke-linejoin="round">LaRC</text>
<text transform="translate(3311.31,2076.30) scale(1.2784,1)" font-family="'Liberation Sans', sans-serif" font-weight="normal" font-size="28.49" fill="#8b8b8b" stroke="#8b8b8b" stroke-width="0.60" stroke-linejoin="round">Preparer:</text>
<text transform="translate(3471.34,2076.30) scale(1.3105,1)" font-family="'Liberation Sans', sans-serif" font-weight="normal" font-size="28.49" fill="#8b8b8b" stroke="#8b8b8b" stroke-width="0.60" stroke-linejoin="round">Kevin</text>
<text transform="translate(3573.10,2076.30) scale(1.1125,1)" font-family="'Liberation Sans', sans-serif" font-weight="normal" font-size="28.49" fill="#8b8b8b" stroke="#8b8b8b" stroke-width="0.60" stroke-linejoin="round">R.</text>
<text transform="translate(3613.55,2076.30) scale(1.2634,1)" font-family="'Liberation Sans', sans-serif" font-weight="normal" font-size="28.49" fill="#8b8b8b" stroke="#8b8b8b" stroke-width="0.60" stroke-linejoin="round">Leavor</text>
<text transform="translate(3735.30,2076.30) scale(1.3022,1)" font-family="'Liberation Sans', sans-serif" font-weight="normal" font-size="28.49" fill="#8b8b8b" stroke="#8b8b8b" stroke-width="0.60" stroke-linejoin="round">(AMA)</text>
<text transform="translate(3389.46,2113.20) scale(1.2843,1)" font-family="'Liberation Sans', sans-serif" font-weight="normal" font-size="28.49" fill="#8b8b8b" stroke="#8b8b8b" stroke-width="0.60" stroke-linejoin="round">Generated</text>
<text transform="translate(3571.72,2113.20) scale(1.1697,1)" font-family="'Liberation Sans', sans-serif" font-weight="normal" font-size="28.49" fill="#8b8b8b" stroke="#8b8b8b" stroke-width="0.60" stroke-linejoin="round">2025-07-17</text>
<text transform="translate(3755.72,2113.20) scale(1.1753,1)" font-family="'Liberation Sans', sans-serif" font-weight="normal" font-size="28.49" fill="#8b8b8b" stroke="#8b8b8b" stroke-width="0.60" stroke-linejoin="round">22:25</text>
<text transform="translate(3533.11,2150.30) scale(1.2794,1)" font-family="'Liberation Sans', sans-serif" font-weight="normal" font-size="28.49" fill="#8b8b8b" stroke="#8b8b8b" stroke-width="0.60" stroke-linejoin="round">Data</text>
<text transform="translate(3624.45,2150.30) scale(1.2301,1)" font-family="'Liberation Sans', sans-serif" font-weight="normal" font-size="28.49" fill="#8b8b8b" stroke="#8b8b8b" stroke-width="0.60" stroke-linejoin="round">Version:</text>
<text transform="translate(3760.29,2150.30) scale(1.2500,1)" font-family="'Liberation Sans', sans-serif" font-weight="normal" font-size="28.49" fill="#8b8b8b" stroke="#8b8b8b" stroke-width="0.60" stroke-linejoin="round">6.0.0</text>
<g id="logo">
<path d="M3494.00 223.00V53.70Q3494.00 17.70 3530.00 17.70H3794.60Q3830.60 17.70 3830.60 53.70V223.00A168.30 168.30 0 0 1 3494.00 223.00Z" fill="#e1584c"/>
<path d="M3500.80 223.00V56.42Q3500.80 24.50 3532.72 24.50H3791.88Q3823.80 24.50 3823.80 56.42V223.00A161.50 161.50 0 0 1 3500.80 223.00Z" fill="#0b4b85"/>
<circle cx="3663.1" cy="220.4" r="141.6" fill="#c9ccd7"/>
<clipPath id="lc"><circle cx="3663.1" cy="220.4" r="125.8"/></clipPath>
<circle cx="3663.1" cy="220.4" r="125.8" fill="#0a4a84"/>
<g clip-path="url(#lc)">
<circle cx="3179.5" cy="595.7" r="625.0" fill="#1773b3"/>
<circle cx="3179.5" cy="595.7" r="613.5" fill="#0b4f8b" stroke="#e8f2fb" stroke-width="1.3"/>
<clipPath id="ec"><circle cx="3179.5" cy="595.7" r="612.9"/></clipPath>
<g clip-path="url(#ec)" fill="#5b9f69">
<polygon points="3592.8,167.1 3610.8,174.3 3621.5,183.3 3635.9,190.4 3653.8,206.6 3661.9,220.9 3663.9,233.5 3666.7,247.8 3669.6,261.3 3671.4,268.5 3668.2,267.6 3664.9,259.5 3660.1,257.7 3652.0,260.4 3645.7,266.7 3642.3,276.5 3643.0,286.4 3647.0,296.3 3653.8,303.5 3660.1,302.6 3661.9,294.5 3662.4,287.3 3666.0,288.2 3669.1,298.1 3673.5,307.9 3679.8,311.5 3683.9,315.1 3687.5,311.0 3692.4,312.1 3694.7,316.4 3689.7,318.7 3681.6,318.7 3675.3,314.2 3664.6,312.4 3653.8,316.4 3641.3,315.1 3630.5,306.1 3621.5,298.1 3610.8,289.1 3607.2,287.3 3592.8,287.3"/>
<polygon points="3608.1,288.2 3613.5,290.9 3621.5,299.0 3629.6,309.2 3626.9,309.7 3617.9,300.8 3609.9,292.7"/>
<polygon points="3694.0,341.1 3695.1,323.2 3696.9,305.2 3700.4,296.3 3705.8,292.3 3710.3,290.5 3736.3,330.4 3714.8,344.7"/>
</g>
<g clip-path="url(#ec)" fill="#0b4f8b">
<polygon points="3620.1,200.3 3625.1,203.9 3629.6,203.0 3633.2,206.6 3638.6,207.5 3643.0,204.8 3647.0,209.3 3652.0,208.4 3650.2,213.8 3645.7,219.1 3643.0,215.6 3640.9,221.8 3637.7,226.3 3635.0,221.8 3633.2,215.6 3629.6,213.8 3626.9,216.5 3623.3,213.8 3621.2,208.4"/>
<polygon points="3660.1,221.8 3662.8,223.6 3663.1,229.0 3660.6,228.1"/>
</g>
<path d="M3693.3 107.0L3694.5 115.3L3701.8 116.5L3694.5 117.7L3693.3 126.0L3692.1 117.7L3684.8 116.5L3692.1 115.3Z" fill="#fff3c4"/>
<circle cx="3693.3" cy="116.5" r="2.2" fill="#ffd36a"/>
<path d="M3679.8 121.7L3680.6 126.9L3685.3 127.7L3680.6 128.5L3679.8 133.7L3679.0 128.5L3674.3 127.7L3679.0 126.9Z" fill="#ffffff"/>
<path d="M3703.7 126.5L3704.3 130.7L3707.9 131.3L3704.3 131.9L3703.7 136.1L3703.1 131.9L3699.5 131.3L3703.1 130.7Z" fill="#ffffff"/>
<g stroke="#eaf3fb" stroke-width="1.1" fill="none">
<path d="M3716.2 192.6L3654.7 159.6"/>
<path d="M3716.2 192.6L3645.7 167.1"/>
<path d="M3716.2 192.6L3670.0 226.3"/>
<path d="M3716.2 192.6L3674.4 233.5"/>
<path d="M3716.2 192.6L3723.4 259.5"/>
<path d="M3716.2 192.6L3734.2 257.7"/>
<path d="M3596.0 150.5L3640.0 189.0" stroke-width="0.9"/>
</g>
<polygon points="3716.2,192.6 3670.0,226.3 3674.4,233.5" fill="#e8f2fb" opacity="0.85"/>
<polygon points="3714.8,194.8 3672.1,226.7 3675.0,231.2" fill="#0b4a84"/>
<circle cx="3636.8" cy="143.8" r="23.4" fill="#f6f6f9"/>
<clipPath id="mc"><circle cx="3636.8" cy="143.8" r="23.4"/></clipPath>
<g clip-path="url(#mc)">
<path d="M3614.8 149.8 a23.4 23.4 0 0 1 41 -16 a30 30 0 0 0 -30 42 z" fill="#c8cad4"/>
<g fill="#bfc1cc">
<ellipse cx="3630.8" cy="134.8" rx="5.5" ry="4.5"/>
<ellipse cx="3639.8" cy="131.8" rx="4.0" ry="3.0"/>
<ellipse cx="3645.8" cy="137.8" rx="4.5" ry="5.5"/>
<ellipse cx="3640.8" cy="146.8" rx="5.0" ry="4.0"/>
<ellipse cx="3633.8" cy="143.8" rx="3.0" ry="4.0"/>
<ellipse cx="3647.8" cy="147.8" rx="3.0" ry="3.5"/>
<ellipse cx="3626.8" cy="140.8" rx="3.0" ry="3.0"/>
</g></g>
<circle cx="3735.4" cy="280.5" r="23.2" fill="#cfcfd9"/>
<clipPath id="sc"><circle cx="3735.4" cy="280.5" r="23.2"/></clipPath>
<circle clip-path="url(#sc)" cx="3741.9" cy="277.0" r="24.5" fill="#ffdf9c"/>
<g fill="#d3d6e1">
<polygon points="3710.3,159.8 3722.3,147.8 3724.0,149.5 3712.0,161.5"/>
<polygon points="3712.5,162.0 3724.5,150.1 3726.2,151.7 3714.2,163.7"/>
<polygon points="3714.8,164.3 3726.8,152.3 3728.4,154.0 3716.5,166.0"/>
<polygon points="3717.0,166.5 3729.0,154.5 3730.7,156.2 3718.7,168.2"/>
<polygon points="3708.5,161.6 3696.5,173.6 3698.2,175.3 3710.2,163.3"/>
<polygon points="3710.7,163.8 3698.8,175.8 3700.4,177.5 3712.4,165.5"/>
<polygon points="3713.0,166.1 3701.0,178.1 3702.7,179.7 3714.7,167.8"/>
<polygon points="3715.2,168.3 3703.2,180.3 3704.9,182.0 3716.9,170.0"/>
<polygon points="3739.7,188.7 3751.7,176.7 3753.4,178.4 3741.4,190.4"/>
<polygon points="3741.9,190.9 3753.9,179.0 3755.6,180.6 3743.6,192.6"/>
<polygon points="3744.2,193.2 3756.2,181.2 3757.8,182.9 3745.9,194.9"/>
<polygon points="3746.4,195.4 3758.4,183.4 3760.1,185.1 3748.1,197.1"/>
<polygon points="3737.9,190.5 3725.9,202.5 3727.6,204.2 3739.6,192.2"/>
<polygon points="3740.1,192.7 3728.2,204.7 3729.8,206.4 3741.8,194.4"/>
<polygon points="3742.4,195.0 3730.4,207.0 3732.1,208.6 3744.1,196.7"/>
<polygon points="3744.6,197.2 3732.6,209.2 3734.3,210.9 3746.3,198.9"/>
</g>
<path d="M3710.1 161.4L3746.5 197.3" stroke="#e9e2d8" stroke-width="1.7" fill="none"/>
<g stroke="#dfe6f0" stroke-width="1.5" fill="none" stroke-linecap="round">
<path d="M3713.1 184.5L3723.5 194.2"/>
<path d="M3714.5 181.4L3722.1 174.9"/>
<path d="M3727.6 171.4L3734.5 178.3"/>
<path d="M3725.5 192.1L3733.1 184.9"/>
<path d="M3721.4 184.5L3726.9 190.0"/>
<path d="M3719.3 188.7L3724.2 183.8"/>
<path d="M3728.3 174.2L3728.3 178.3"/>
<path d="M3727.6 182.4L3731.8 178.3"/>
</g>
</g>
<g clip-path="url(#lc)">
<polygon points="3552,212 3538,237 3524,300 3524,348 3607.5,348 3607.5,196 3575,200" fill="#cf4634"/>
<polygon points="3556.0,214 3560.0,214 3535.8,348 3530.0,348" fill="#7c120c"/>
<polygon points="3559.7,214 3563.7,214 3541.4,348 3535.5,348" fill="#e8604d"/>
<polygon points="3563.4,214 3567.3,214 3546.9,348 3541.1,348" fill="#8e1c13"/>
<polygon points="3567.0,214 3571.0,214 3552.4,348 3546.6,348" fill="#e25a47"/>
<polygon points="3570.7,214 3574.7,214 3558.0,348 3552.1,348" fill="#6e0f0a"/>
<polygon points="3574.4,214 3578.4,214 3563.5,348 3557.7,348" fill="#d94f3d"/>
<polygon points="3578.1,214 3582.1,214 3569.1,348 3563.2,348" fill="#a3281d"/>
<polygon points="3581.8,214 3585.7,214 3574.6,348 3568.8,348" fill="#ea6651"/>
<polygon points="3585.4,214 3589.4,214 3580.1,348 3574.3,348" fill="#7c120c"/>
<polygon points="3589.1,214 3593.1,214 3585.7,348 3579.8,348" fill="#d94f3d"/>
<polygon points="3592.8,214 3596.8,214 3591.2,348 3585.4,348" fill="#8e1c13"/>
<polygon points="3596.5,214 3600.4,214 3596.7,348 3590.9,348" fill="#e8604d"/>
<polygon points="3600.1,214 3604.1,214 3602.3,348 3596.4,348" fill="#a3281d"/>
<polygon points="3603.8,214 3607.8,214 3607.8,348 3602.0,348" fill="#ea6651"/>
</g>
<polygon points="3542.5,152.5 3554.1,148.6 3562.8,148.2 3577.3,164.1 3587.0,177.6 3599.5,164.1 3603.9,168.0 3607.4,179.6 3607.4,192.1 3607.7,218.2 3587.0,216.3 3557.0,206.6 3554.1,197.0 3550.2,190.2 3545.4,195.0 3540.6,207.6 3531.9,221.1 3511.6,239.5 3501.9,244.8 3502.9,240.4 3509.7,216.3 3516.4,187.3 3521.3,171.8 3531.9,161.2" fill="#dc5643"/>
<polygon points="3523.2,179.6 3529.0,173.8 3531.9,183.4 3538.6,195.0 3545.4,195.0 3540.6,207.6 3531.9,221.1 3511.6,239.5 3504.8,241.4 3512.6,216.3 3518.4,192.1" fill="#7c120c"/>
<polygon points="3524.2,197.0 3529.0,193.1 3531.9,206.6 3524.2,225.9 3514.5,235.6 3520.3,216.3" fill="#e8644f"/>
<polygon points="3550.2,177.6 3558.0,183.4 3567.6,193.1 3577.3,192.1 3587.0,191.2 3600.5,187.3 3607.2,192.1 3607.4,202.8 3587.0,197.0 3573.4,200.8 3561.8,197.0 3552.2,189.2" fill="#b2301f"/>
<polygon points="3545.4,155.4 3558.0,151.5 3567.6,158.3 3575.4,168.0 3578.3,181.5 3567.6,177.6 3554.1,168.0" fill="#e8644f"/>
<polygon points="3559.9,200.8 3577.3,205.7 3596.6,206.6 3607.4,204.7 3607.5,214.3 3587.0,213.4 3559.9,205.7" fill="#c23a29"/>
<polygon points="3557.0,205.2 3587.0,214.8 3587.0,220.1 3556.5,210.5" fill="#7b3413"/>
<polygon points="3603.5,222.8 3597.4,230.0 3588.1,228.4 3584.9,219.5 3591.0,212.2 3600.3,213.9" fill="#c98a40"/>
<polygon points="3600.5,222.2 3596.4,227.1 3590.1,226.0 3587.9,220.0 3592.0,215.1 3598.3,216.2" fill="#6e2610"/>
<text x="3594.2" y="224.1" font-family="'Liberation Serif', serif" font-style="italic" font-weight="bold" font-size="9" fill="#d9a050" text-anchor="middle">S</text>
<polygon points="3600.5,166.0 3617.4,172.3 3609.7,191.6 3601.9,187.3" fill="#7a1d10"/>
<polygon points="3612.1,171.8 3617.4,172.8 3611.1,189.2 3607.7,188.3" fill="#c58a4d"/>
<polygon points="3607.2,181.0 3615.9,178.1 3615.9,190.2 3608.7,192.9" fill="#e0aa72"/>
<path d="M3534.8 122.6 L3540.6 171.8 L3551.9 251.4 L3559.5 268.5 L3563.6 296.5" stroke="#9a5420" stroke-width="6.2" fill="none" stroke-linejoin="round" stroke-linecap="round"/>
<path d="M3534.8 122.6 L3540.6 171.8 L3551.9 251.4 L3559.5 268.5 L3563.6 296.5" stroke="#cf8d44" stroke-width="2.6" fill="none" stroke-linejoin="round" stroke-linecap="round" transform="translate(0.9,0)"/>
<circle cx="3532.7" cy="113.7" r="10.6" fill="#eef0f6"/>
<circle cx="3533.7" cy="113.4" r="9.0" fill="#c6c8d3"/>
<polygon points="3529.0,177.6 3532.9,172.8 3542.5,171.8 3546.9,177.6 3547.5,187.3 3543.5,194.3 3536.7,195.2 3530.9,189.2" fill="#e0aa72"/>
<polygon points="3531.9,187.3 3542.5,186.3 3543.5,194.3 3536.7,195.2" fill="#bb7d42"/>
<polygon points="3561.8,142.9 3567.6,139.0 3577.3,134.6 3587.0,129.8 3596.6,128.4 3603.4,131.3 3606.8,138.0 3604.3,138.0 3596.6,133.2 3587.0,134.2 3580.2,139.0 3579.2,143.8 3582.1,150.6 3587.0,155.4 3596.6,156.4 3599.5,160.2 3601.0,171.8 3596.6,185.4 3587.0,190.7 3580.2,179.6 3576.3,164.1 3567.6,154.4" fill="#ffffff"/>
<polygon points="3580.2,139.0 3587.0,134.2 3596.6,133.2 3604.3,138.0 3605.5,144.8 3600.5,152.5 3596.6,156.4 3587.0,155.4 3582.1,150.6 3579.2,143.8" fill="#dba56a"/>
<polygon points="3580.2,139.0 3587.0,134.2 3591.8,134.2 3587.0,141.9 3585.0,150.6 3582.1,150.6 3579.2,143.8" fill="#b87a3f"/>
<polygon points="3589.4,154.6 3598.6,154.6 3599.7,160.2 3591.8,159.5" fill="#ffffff"/>
<polygon points="3587.4,134.6 3592.8,132.7 3595.7,133.7 3589.9,136.6" fill="#f3f3f3"/>
<polygon points="3592.3,145.3 3601.4,146.7 3601.3,148.2 3592.6,146.7" fill="#5e3318"/>
<text transform="translate(3526.01,59.20) scale(0.9541,1)" font-family="'Liberation Serif', sans-serif" font-weight="bold" font-size="43.07" fill="#fff">SAGE</text>
<text transform="translate(3650.07,59.20) scale(1.0532,1)" font-family="'Liberation Serif', sans-serif" font-weight="bold" font-size="43.07" fill="#fff">III</text>
<circle cx="3716.2" cy="45.6" r="4.6" fill="#fff"/>
<text transform="translate(3731.57,59.20) scale(0.9889,1)" font-family="'Liberation Serif', sans-serif" font-weight="bold" font-size="43.07" fill="#fff">ISS</text>
<text transform="translate(3527.40,71.90) scale(0.9831,1)" font-family="'Liberation Sans', sans-serif" font-weight="normal" font-size="8.87" fill="#dbe7f3">Stratospheric Aerosol and Gas Experiment III</text>
<text transform="translate(3735.99,71.90) scale(1.1100,1)" font-family="'Liberation Sans', sans-serif" font-weight="normal" font-size="8.87" fill="#dbe7f3">International</text>
<text transform="translate(3732.75,82.95) scale(1.1083,1)" font-family="'Liberation Sans', sans-serif" font-weight="normal" font-size="8.87" fill="#dbe7f3">Space Station</text>
<path id="tp" d="M3505.00 221.20A157.60 157.60 0 0 0 3820.20 221.20" fill="none"/>
<text font-family="'Liberation Sans', sans-serif" font-weight="bold" font-size="15.6" fill="#fff"><textPath href="#tp" startOffset="36.3" textLength="447.0" lengthAdjust="spacing">BALL • NASA LANGLEY RESEARCH CENTER • TAS-I • ESA</textPath></text>
</g>
</g>
</svg>
</body></html>
